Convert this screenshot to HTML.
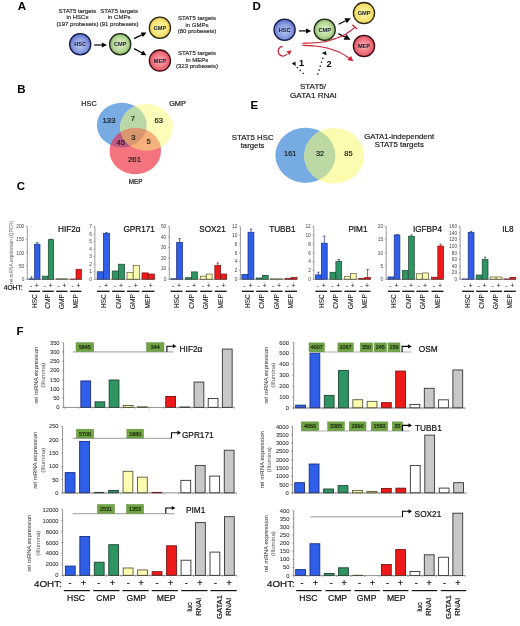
<!DOCTYPE html>
<html><head><meta charset="utf-8"><title>Figure</title>
<style>
html,body{margin:0;padding:0;background:#fff;}
body{width:520px;height:626px;overflow:hidden;}
svg{display:block;font-family:"Liberation Sans", sans-serif;filter:blur(0.3px);}
</style></head>
<body>
<svg width="520" height="626" viewBox="0 0 520 626">
<rect x="0" y="0" width="520" height="626" fill="#fff"/>
<defs><radialGradient id="gB" cx="50%" cy="55%" r="55%"><stop offset="0" stop-color="#bcc8f2"/><stop offset="0.6" stop-color="#8a9de0"/><stop offset="1" stop-color="#5468c0"/></radialGradient><radialGradient id="gG" cx="50%" cy="50%" r="55%"><stop offset="0" stop-color="#e2f0cf"/><stop offset="0.6" stop-color="#b9d99a"/><stop offset="1" stop-color="#7aa85a"/></radialGradient><radialGradient id="gY" cx="50%" cy="50%" r="55%"><stop offset="0" stop-color="#fff6b0"/><stop offset="0.6" stop-color="#f8e77a"/><stop offset="1" stop-color="#e6c84a"/></radialGradient><radialGradient id="gR" cx="50%" cy="50%" r="55%"><stop offset="0" stop-color="#f9b4bc"/><stop offset="0.6" stop-color="#f07480"/><stop offset="1" stop-color="#d84452"/></radialGradient></defs>
<text x="17.8" y="10.2" font-size="11.5" text-anchor="start" font-weight="bold" fill="#000" >A</text>
<text x="77.4" y="13.2" font-size="6" text-anchor="middle" font-weight="normal" fill="#333" stroke="#333" stroke-width="0.2" >STAT5 targets</text>
<text x="77.4" y="19.4" font-size="6" text-anchor="middle" font-weight="normal" fill="#333" stroke="#333" stroke-width="0.2" >in HSCs</text>
<text x="77.4" y="25.6" font-size="6" text-anchor="middle" font-weight="normal" fill="#333" stroke="#333" stroke-width="0.2" >(197 probesets)</text>
<text x="119.1" y="13.2" font-size="6" text-anchor="middle" font-weight="normal" fill="#333" stroke="#333" stroke-width="0.2" >STAT5 targets</text>
<text x="119.1" y="19.4" font-size="6" text-anchor="middle" font-weight="normal" fill="#333" stroke="#333" stroke-width="0.2" >in CMPs</text>
<text x="119.1" y="25.6" font-size="6" text-anchor="middle" font-weight="normal" fill="#333" stroke="#333" stroke-width="0.2" >(91 probesets)</text>
<text x="197" y="20.4" font-size="6" text-anchor="middle" font-weight="normal" fill="#333" stroke="#333" stroke-width="0.2" >STAT5 targets</text>
<text x="197" y="26.7" font-size="6" text-anchor="middle" font-weight="normal" fill="#333" stroke="#333" stroke-width="0.2" >in GMPs</text>
<text x="197" y="33" font-size="6" text-anchor="middle" font-weight="normal" fill="#333" stroke="#333" stroke-width="0.2" >(80 probesets)</text>
<text x="197" y="55.4" font-size="6" text-anchor="middle" font-weight="normal" fill="#333" stroke="#333" stroke-width="0.2" >STAT5 targets</text>
<text x="197" y="61.7" font-size="6" text-anchor="middle" font-weight="normal" fill="#333" stroke="#333" stroke-width="0.2" >in MEPs</text>
<text x="197" y="68" font-size="6" text-anchor="middle" font-weight="normal" fill="#333" stroke="#333" stroke-width="0.2" >(323 probesets)</text>
<circle cx="80.2" cy="44.2" r="10.6" fill="url(#gB)" stroke="#141a4a" stroke-width="1.3"/>
<text x="80.2" y="46.2" font-size="5.6" text-anchor="middle" font-weight="bold" fill="#12162a" >HSC</text>
<circle cx="120.2" cy="44.2" r="10.6" fill="url(#gG)" stroke="#1c2a14" stroke-width="1.3"/>
<text x="120.2" y="46.2" font-size="5.6" text-anchor="middle" font-weight="bold" fill="#12162a" >CMP</text>
<circle cx="159.9" cy="27.8" r="10.6" fill="url(#gY)" stroke="#2a2410" stroke-width="1.3"/>
<text x="159.9" y="29.8" font-size="5.6" text-anchor="middle" font-weight="bold" fill="#12162a" >GMP</text>
<circle cx="159.9" cy="60.6" r="10.6" fill="url(#gR)" stroke="#3a0c14" stroke-width="1.3"/>
<text x="159.9" y="62.6" font-size="5.6" text-anchor="middle" font-weight="bold" fill="#12162a" >MEP</text>
<line x1="94.2" y1="45" x2="101.8" y2="45" stroke="#000" stroke-width="1.2" />
<polygon points="107,45 101.8,47.5 101.8,42.5" fill="#000"/>
<line x1="134" y1="38.6" x2="141.81" y2="34.85" stroke="#000" stroke-width="1.2" />
<polygon points="146.5,32.6 142.89,37.1 140.73,32.6" fill="#000"/>
<line x1="134" y1="48.6" x2="141.9" y2="52.77" stroke="#000" stroke-width="1.2" />
<polygon points="146.5,55.2 140.73,54.98 143.07,50.56" fill="#000"/>
<text x="252.6" y="9.8" font-size="11.5" text-anchor="start" font-weight="bold" fill="#000" >D</text>
<circle cx="284.6" cy="29.7" r="10.6" fill="url(#gB)" stroke="#141a4a" stroke-width="1.3"/>
<text x="284.6" y="31.7" font-size="5.6" text-anchor="middle" font-weight="bold" fill="#12162a" >HSC</text>
<circle cx="324.7" cy="29.7" r="10.6" fill="url(#gG)" stroke="#1c2a14" stroke-width="1.3"/>
<text x="324.7" y="31.7" font-size="5.6" text-anchor="middle" font-weight="bold" fill="#12162a" >CMP</text>
<circle cx="364" cy="13.1" r="10.6" fill="url(#gY)" stroke="#2a2410" stroke-width="1.3"/>
<text x="364" y="15.1" font-size="5.6" text-anchor="middle" font-weight="bold" fill="#12162a" >GMP</text>
<circle cx="364" cy="46" r="10.6" fill="url(#gR)" stroke="#3a0c14" stroke-width="1.3"/>
<text x="364" y="48" font-size="5.6" text-anchor="middle" font-weight="bold" fill="#12162a" >MEP</text>
<line x1="299" y1="30.9" x2="306" y2="30.9" stroke="#000" stroke-width="1.2" />
<polygon points="311.2,30.9 306,33.4 306,28.4" fill="#000"/>
<line x1="338.7" y1="24.2" x2="345.6" y2="20.78" stroke="#000" stroke-width="1.2" />
<polygon points="350.8,18.2 346.85,23.29 344.36,18.27" fill="#000"/>
<line x1="338.4" y1="33.6" x2="345.07" y2="36.99" stroke="#000" stroke-width="1.2" />
<polygon points="350.6,39.8 343.71,39.67 346.43,34.32" fill="#000"/>
<path d="M302.3,43.2 C304.42,43.13 311.22,43.03 315,42.8 C318.78,42.57 322.22,42.3 325,41.8 C327.78,41.3 329.45,40.52 331.7,39.8 C333.95,39.08 336.25,38.4 338.5,37.5 C340.75,36.6 343.18,35.53 345.2,34.4 C347.22,33.27 349,31.9 350.6,30.7 C352.2,29.5 354.1,27.78 354.8,27.2" fill="none" stroke="#cf1f33" stroke-width="1.15"/>
<line x1="352.4" y1="24.8" x2="357" y2="29" stroke="#cf1f33" stroke-width="1.2" />
<path d="M302.3,45.3 C304.42,45.42 310.72,45.52 315,46 C319.28,46.48 323.93,47.15 328,48.2 C332.07,49.25 336.32,50.93 339.4,52.3 C342.48,53.67 344.73,55.3 346.5,56.4 C348.27,57.5 349.42,58.48 350,58.9" fill="none" stroke="#cf1f33" stroke-width="1.15"/>
<polygon points="353.4,61.2 347.4,59.9 350.9,55.9" fill="#cf1f33"/>
<path d="M282.6,46.3 A4.9,4.9 0 1 0 287.0,54.0" fill="none" stroke="#cf1f33" stroke-width="1.2"/>
<polygon points="291.4,50.3 286.4,51.4 289.7,55.2" fill="#cf1f33"/>
<path d="M303.6,73.8 L296.2,66.6" fill="none" stroke="#111" stroke-width="1.4" stroke-dasharray="1.3,2.8"/>
<polygon points="291.7,63.4 295.4,61.6 295.8,66.1" fill="#111"/>
<path d="M317.6,74.6 L323.0,57.6" fill="none" stroke="#111" stroke-width="1.4" stroke-dasharray="1.3,2.8"/>
<polygon points="321.8,53.0 326.0,51.3 326.6,55.6" fill="#111"/>
<text x="299" y="66.2" font-size="9.2" text-anchor="start" font-weight="bold" fill="#000" >1</text>
<text x="326.4" y="67.2" font-size="9.2" text-anchor="start" font-weight="bold" fill="#000" >2</text>
<text x="313" y="89.3" font-size="8.1" text-anchor="middle" font-weight="normal" fill="#222" stroke="#222" stroke-width="0.2" >STAT5/</text>
<text x="313.3" y="98.4" font-size="8.1" text-anchor="middle" font-weight="normal" fill="#222" stroke="#222" stroke-width="0.2" >GATA1 RNAi</text>
<text x="17.3" y="92.6" font-size="11.5" text-anchor="start" font-weight="bold" fill="#000" >B</text>
<defs><clipPath id="cpB"><ellipse cx="121.8" cy="125.1" rx="24.9" ry="22.3" /></clipPath><clipPath id="cpY"><ellipse cx="146.6" cy="127.4" rx="26.4" ry="23.5" /></clipPath><clipPath id="cpBY" clip-path="url(#cpB)"><ellipse cx="146.6" cy="127.4" rx="26.4" ry="23.5" /></clipPath></defs>
<ellipse cx="121.8" cy="125.1" rx="24.9" ry="22.3" fill="#78abe2"/>
<ellipse cx="146.6" cy="127.4" rx="26.4" ry="23.5" fill="#fdfcb8"/>
<ellipse cx="135.3" cy="151.1" rx="25.7" ry="23.1" fill="#f3737f"/>
<ellipse cx="146.6" cy="127.4" rx="26.4" ry="23.5" fill="#b9d8a6" clip-path="url(#cpB)"/>
<ellipse cx="135.3" cy="151.1" rx="25.7" ry="23.1" fill="#bd5a84" clip-path="url(#cpB)"/>
<ellipse cx="135.3" cy="151.1" rx="25.7" ry="23.1" fill="#f6b27a" clip-path="url(#cpY)"/>
<ellipse cx="135.3" cy="151.1" rx="25.7" ry="23.1" fill="#d99770" clip-path="url(#cpBY)"/>
<text x="89" y="105.6" font-size="7.3" text-anchor="middle" font-weight="normal" fill="#1a1a1a" stroke="#1a1a1a" stroke-width="0.2" >HSC</text>
<text x="177.5" y="105.6" font-size="7.3" text-anchor="middle" font-weight="normal" fill="#1a1a1a" stroke="#1a1a1a" stroke-width="0.2" >GMP</text>
<text x="135.6" y="183.9" font-size="6.3" text-anchor="middle" font-weight="normal" fill="#1a1a1a" stroke="#1a1a1a" stroke-width="0.2" >MEP</text>
<text x="109" y="122.6" font-size="7.7" text-anchor="middle" font-weight="normal" fill="#1a1a1a" stroke="#1a1a1a" stroke-width="0.2" >133</text>
<text x="133" y="120.6" font-size="7.7" text-anchor="middle" font-weight="normal" fill="#1a1a1a" stroke="#1a1a1a" stroke-width="0.2" >7</text>
<text x="158.8" y="122.6" font-size="7.7" text-anchor="middle" font-weight="normal" fill="#1a1a1a" stroke="#1a1a1a" stroke-width="0.2" >63</text>
<text x="133.5" y="139.8" font-size="7.7" text-anchor="middle" font-weight="normal" fill="#1a1a1a" stroke="#1a1a1a" stroke-width="0.2" >3</text>
<text x="120.8" y="144.8" font-size="7.7" text-anchor="middle" font-weight="normal" fill="#1a1a1a" stroke="#1a1a1a" stroke-width="0.2" >45</text>
<text x="148.7" y="143.8" font-size="7.7" text-anchor="middle" font-weight="normal" fill="#1a1a1a" stroke="#1a1a1a" stroke-width="0.2" >5</text>
<text x="134.5" y="161.8" font-size="7.7" text-anchor="middle" font-weight="normal" fill="#1a1a1a" stroke="#1a1a1a" stroke-width="0.2" >261</text>
<text x="250.6" y="108.8" font-size="11.5" text-anchor="start" font-weight="bold" fill="#000" >E</text>
<defs><clipPath id="cpE"><ellipse cx="305.4" cy="155.3" rx="30" ry="27.6"/></clipPath></defs>
<ellipse cx="305.4" cy="155.3" rx="30" ry="27.6" fill="#77abe3"/>
<ellipse cx="334.2" cy="155.8" rx="30" ry="27.8" fill="#fdfbb0"/>
<ellipse cx="334.2" cy="155.8" rx="30" ry="27.8" fill="#bcd9a4" clip-path="url(#cpE)"/>
<text x="252.7" y="140" font-size="7.8" text-anchor="middle" font-weight="normal" fill="#222" stroke="#222" stroke-width="0.2" >STAT5 HSC</text>
<text x="252.6" y="147.9" font-size="7.8" text-anchor="middle" font-weight="normal" fill="#222" stroke="#222" stroke-width="0.2" >targets</text>
<text x="399.2" y="138.7" font-size="7.8" text-anchor="middle" font-weight="normal" fill="#222" stroke="#222" stroke-width="0.2" >GATA1-independent</text>
<text x="399.3" y="146.9" font-size="7.8" text-anchor="middle" font-weight="normal" fill="#222" stroke="#222" stroke-width="0.2" >STAT5 targets</text>
<text x="290.2" y="156.4" font-size="7.4" text-anchor="middle" font-weight="normal" fill="#222" stroke="#222" stroke-width="0.2" >161</text>
<text x="320.1" y="156.4" font-size="7.4" text-anchor="middle" font-weight="normal" fill="#222" stroke="#222" stroke-width="0.2" >32</text>
<text x="348.4" y="156.4" font-size="7.4" text-anchor="middle" font-weight="normal" fill="#222" stroke="#222" stroke-width="0.2" >85</text>
<text x="16.8" y="190.2" font-size="11.5" text-anchor="start" font-weight="bold" fill="#000" >C</text>
<rect x="28.8" y="278.9" width="5.4" height="0.4" fill="#2f5fe8" stroke="#1b2d80" stroke-width="0.7"/>
<line x1="31.5" y1="278.9" x2="31.5" y2="276.92" stroke="#1b2d80" stroke-width="0.7" />
<line x1="30.3" y1="276.92" x2="32.7" y2="276.92" stroke="#1b2d80" stroke-width="0.7" />
<rect x="34.6" y="244.19" width="5.4" height="35.11" fill="#2f5fe8" stroke="#1b2d80" stroke-width="0.7"/>
<line x1="37.3" y1="244.19" x2="37.3" y2="242.6" stroke="#1b2d80" stroke-width="0.7" />
<line x1="36.1" y1="242.6" x2="38.5" y2="242.6" stroke="#1b2d80" stroke-width="0.7" />
<rect x="42.5" y="276.13" width="5.4" height="3.17" fill="#2e9462" stroke="#1d4430" stroke-width="0.7"/>
<rect x="48.3" y="239.7" width="5.4" height="39.6" fill="#2e9462" stroke="#1d4430" stroke-width="0.7"/>
<line x1="51" y1="239.7" x2="51" y2="239.17" stroke="#1d4430" stroke-width="0.7" />
<line x1="49.8" y1="239.17" x2="52.2" y2="239.17" stroke="#1d4430" stroke-width="0.7" />
<rect x="56.3" y="278.77" width="5.4" height="0.53" fill="#fdfcb0" stroke="#5a5a3a" stroke-width="0.7"/>
<rect x="62.1" y="278.77" width="5.4" height="0.53" fill="#fdfcb0" stroke="#5a5a3a" stroke-width="0.7"/>
<rect x="70.2" y="279.04" width="5.4" height="0.26" fill="#ee1a1a" stroke="#7a1010" stroke-width="0.7"/>
<rect x="76" y="269.27" width="5.4" height="10.03" fill="#ee1a1a" stroke="#7a1010" stroke-width="0.7"/>
<line x1="27.3" y1="226.5" x2="27.3" y2="279.3" stroke="#555" stroke-width="0.6" />
<line x1="27.3" y1="279.3" x2="82.3" y2="279.3" stroke="#555" stroke-width="0.6" />
<line x1="26" y1="279.3" x2="27.3" y2="279.3" stroke="#555" stroke-width="0.5" />
<text x="24.3" y="280.9" font-size="4.8" text-anchor="end" font-weight="normal" fill="#444" >0</text>
<line x1="26" y1="266.1" x2="27.3" y2="266.1" stroke="#555" stroke-width="0.5" />
<text x="24.3" y="267.7" font-size="4.8" text-anchor="end" font-weight="normal" fill="#444" >50</text>
<line x1="26" y1="252.9" x2="27.3" y2="252.9" stroke="#555" stroke-width="0.5" />
<text x="24.3" y="254.5" font-size="4.8" text-anchor="end" font-weight="normal" fill="#444" >100</text>
<line x1="26" y1="239.7" x2="27.3" y2="239.7" stroke="#555" stroke-width="0.5" />
<text x="24.3" y="241.3" font-size="4.8" text-anchor="end" font-weight="normal" fill="#444" >150</text>
<line x1="26" y1="226.5" x2="27.3" y2="226.5" stroke="#555" stroke-width="0.5" />
<text x="24.3" y="228.1" font-size="4.8" text-anchor="end" font-weight="normal" fill="#444" >200</text>
<text x="80.5" y="232.3" font-size="8.2" text-anchor="end" font-weight="normal" fill="#111" stroke="#111" stroke-width="0.2" >HIF2&#945;</text>
<text x="31.1" y="287.8" font-size="7" text-anchor="middle" font-weight="normal" fill="#222" >-</text>
<text x="36.8" y="287.8" font-size="7" text-anchor="middle" font-weight="normal" fill="#222" >+</text>
<line x1="28.7" y1="291.3" x2="40" y2="291.3" stroke="#111" stroke-width="1.3" />
<text transform="translate(36.6,294.2) rotate(-90)" font-size="6.6" text-anchor="end" font-weight="normal" fill="#111" stroke="#111" stroke-width="0.05">HSC</text>
<text x="44.8" y="287.8" font-size="7" text-anchor="middle" font-weight="normal" fill="#222" >-</text>
<text x="50.5" y="287.8" font-size="7" text-anchor="middle" font-weight="normal" fill="#222" >+</text>
<line x1="42.4" y1="291.3" x2="53.7" y2="291.3" stroke="#111" stroke-width="1.3" />
<text transform="translate(50.3,294.2) rotate(-90)" font-size="6.6" text-anchor="end" font-weight="normal" fill="#111" stroke="#111" stroke-width="0.05">CMP</text>
<text x="58.6" y="287.8" font-size="7" text-anchor="middle" font-weight="normal" fill="#222" >-</text>
<text x="64.3" y="287.8" font-size="7" text-anchor="middle" font-weight="normal" fill="#222" >+</text>
<line x1="56.2" y1="291.3" x2="67.5" y2="291.3" stroke="#111" stroke-width="1.3" />
<text transform="translate(64.1,294.2) rotate(-90)" font-size="6.6" text-anchor="end" font-weight="normal" fill="#111" stroke="#111" stroke-width="0.05">GMP</text>
<text x="72.5" y="287.8" font-size="7" text-anchor="middle" font-weight="normal" fill="#222" >-</text>
<text x="78.2" y="287.8" font-size="7" text-anchor="middle" font-weight="normal" fill="#222" >+</text>
<line x1="70.1" y1="291.3" x2="81.4" y2="291.3" stroke="#111" stroke-width="1.3" />
<text transform="translate(78,294.2) rotate(-90)" font-size="6.6" text-anchor="end" font-weight="normal" fill="#111" stroke="#111" stroke-width="0.05">MEP</text>
<rect x="97.2" y="271.76" width="6.2" height="7.54" fill="#2f5fe8" stroke="#1b2d80" stroke-width="0.7"/>
<rect x="103.4" y="233.29" width="6.2" height="46.01" fill="#2f5fe8" stroke="#1b2d80" stroke-width="0.7"/>
<line x1="106.5" y1="233.29" x2="106.5" y2="232.53" stroke="#1b2d80" stroke-width="0.7" />
<line x1="105.3" y1="232.53" x2="107.7" y2="232.53" stroke="#1b2d80" stroke-width="0.7" />
<rect x="112.2" y="271" width="6.2" height="8.3" fill="#2e9462" stroke="#1d4430" stroke-width="0.7"/>
<rect x="118.4" y="264.21" width="6.2" height="15.09" fill="#2e9462" stroke="#1d4430" stroke-width="0.7"/>
<rect x="127" y="272.51" width="6.2" height="6.79" fill="#fdfcb0" stroke="#5a5a3a" stroke-width="0.7"/>
<rect x="133.2" y="265.35" width="6.2" height="13.95" fill="#fdfcb0" stroke="#5a5a3a" stroke-width="0.7"/>
<rect x="142" y="272.89" width="6.2" height="6.41" fill="#ee1a1a" stroke="#7a1010" stroke-width="0.7"/>
<rect x="148.2" y="274.02" width="6.2" height="5.28" fill="#ee1a1a" stroke="#7a1010" stroke-width="0.7"/>
<line x1="94.9" y1="226.5" x2="94.9" y2="279.3" stroke="#555" stroke-width="0.6" />
<line x1="94.9" y1="279.3" x2="155.4" y2="279.3" stroke="#555" stroke-width="0.6" />
<line x1="93.6" y1="279.3" x2="94.9" y2="279.3" stroke="#555" stroke-width="0.5" />
<text x="91.9" y="280.9" font-size="4.8" text-anchor="end" font-weight="normal" fill="#444" >0</text>
<line x1="93.6" y1="271.76" x2="94.9" y2="271.76" stroke="#555" stroke-width="0.5" />
<text x="91.9" y="273.36" font-size="4.8" text-anchor="end" font-weight="normal" fill="#444" >1</text>
<line x1="93.6" y1="264.21" x2="94.9" y2="264.21" stroke="#555" stroke-width="0.5" />
<text x="91.9" y="265.81" font-size="4.8" text-anchor="end" font-weight="normal" fill="#444" >2</text>
<line x1="93.6" y1="256.67" x2="94.9" y2="256.67" stroke="#555" stroke-width="0.5" />
<text x="91.9" y="258.27" font-size="4.8" text-anchor="end" font-weight="normal" fill="#444" >3</text>
<line x1="93.6" y1="249.13" x2="94.9" y2="249.13" stroke="#555" stroke-width="0.5" />
<text x="91.9" y="250.73" font-size="4.8" text-anchor="end" font-weight="normal" fill="#444" >4</text>
<line x1="93.6" y1="241.59" x2="94.9" y2="241.59" stroke="#555" stroke-width="0.5" />
<text x="91.9" y="243.19" font-size="4.8" text-anchor="end" font-weight="normal" fill="#444" >5</text>
<line x1="93.6" y1="234.04" x2="94.9" y2="234.04" stroke="#555" stroke-width="0.5" />
<text x="91.9" y="235.64" font-size="4.8" text-anchor="end" font-weight="normal" fill="#444" >6</text>
<line x1="93.6" y1="226.5" x2="94.9" y2="226.5" stroke="#555" stroke-width="0.5" />
<text x="91.9" y="228.1" font-size="4.8" text-anchor="end" font-weight="normal" fill="#444" >7</text>
<text x="154.8" y="232.3" font-size="8.2" text-anchor="end" font-weight="normal" fill="#111" stroke="#111" stroke-width="0.2" >GPR171</text>
<text x="99.9" y="287.8" font-size="7" text-anchor="middle" font-weight="normal" fill="#222" >-</text>
<text x="106" y="287.8" font-size="7" text-anchor="middle" font-weight="normal" fill="#222" >+</text>
<line x1="97.1" y1="291.3" x2="109.6" y2="291.3" stroke="#111" stroke-width="1.3" />
<text transform="translate(105.6,294.2) rotate(-90)" font-size="6.6" text-anchor="end" font-weight="normal" fill="#111" stroke="#111" stroke-width="0.05">HSC</text>
<text x="114.9" y="287.8" font-size="7" text-anchor="middle" font-weight="normal" fill="#222" >-</text>
<text x="121" y="287.8" font-size="7" text-anchor="middle" font-weight="normal" fill="#222" >+</text>
<line x1="112.1" y1="291.3" x2="124.6" y2="291.3" stroke="#111" stroke-width="1.3" />
<text transform="translate(120.6,294.2) rotate(-90)" font-size="6.6" text-anchor="end" font-weight="normal" fill="#111" stroke="#111" stroke-width="0.05">CMP</text>
<text x="129.7" y="287.8" font-size="7" text-anchor="middle" font-weight="normal" fill="#222" >-</text>
<text x="135.8" y="287.8" font-size="7" text-anchor="middle" font-weight="normal" fill="#222" >+</text>
<line x1="126.9" y1="291.3" x2="139.4" y2="291.3" stroke="#111" stroke-width="1.3" />
<text transform="translate(135.4,294.2) rotate(-90)" font-size="6.6" text-anchor="end" font-weight="normal" fill="#111" stroke="#111" stroke-width="0.05">GMP</text>
<text x="144.7" y="287.8" font-size="7" text-anchor="middle" font-weight="normal" fill="#222" >-</text>
<text x="150.8" y="287.8" font-size="7" text-anchor="middle" font-weight="normal" fill="#222" >+</text>
<line x1="141.9" y1="291.3" x2="154.4" y2="291.3" stroke="#111" stroke-width="1.3" />
<text transform="translate(150.4,294.2) rotate(-90)" font-size="6.6" text-anchor="end" font-weight="normal" fill="#111" stroke="#111" stroke-width="0.05">MEP</text>
<rect x="170.7" y="278.77" width="5.9" height="0.53" fill="#2f5fe8" stroke="#1b2d80" stroke-width="0.7"/>
<rect x="176.65" y="242.34" width="5.9" height="36.96" fill="#2f5fe8" stroke="#1b2d80" stroke-width="0.7"/>
<line x1="179.6" y1="242.34" x2="179.6" y2="238.64" stroke="#1b2d80" stroke-width="0.7" />
<line x1="178.4" y1="238.64" x2="180.8" y2="238.64" stroke="#1b2d80" stroke-width="0.7" />
<rect x="185.6" y="277.72" width="5.9" height="1.58" fill="#2e9462" stroke="#1d4430" stroke-width="0.7"/>
<rect x="191.55" y="271.91" width="5.9" height="7.39" fill="#2e9462" stroke="#1d4430" stroke-width="0.7"/>
<rect x="200.3" y="276.13" width="5.9" height="3.17" fill="#fdfcb0" stroke="#5a5a3a" stroke-width="0.7"/>
<rect x="206.25" y="274.02" width="5.9" height="5.28" fill="#fdfcb0" stroke="#5a5a3a" stroke-width="0.7"/>
<rect x="214.8" y="265.57" width="5.9" height="13.73" fill="#ee1a1a" stroke="#7a1010" stroke-width="0.7"/>
<line x1="217.75" y1="265.57" x2="217.75" y2="262.93" stroke="#7a1010" stroke-width="0.7" />
<line x1="216.55" y1="262.93" x2="218.95" y2="262.93" stroke="#7a1010" stroke-width="0.7" />
<rect x="220.75" y="274.02" width="5.9" height="5.28" fill="#ee1a1a" stroke="#7a1010" stroke-width="0.7"/>
<line x1="169.3" y1="226.5" x2="169.3" y2="279.3" stroke="#555" stroke-width="0.6" />
<line x1="169.3" y1="279.3" x2="226.8" y2="279.3" stroke="#555" stroke-width="0.6" />
<line x1="168" y1="279.3" x2="169.3" y2="279.3" stroke="#555" stroke-width="0.5" />
<text x="166.3" y="280.9" font-size="4.8" text-anchor="end" font-weight="normal" fill="#444" >0</text>
<line x1="168" y1="268.74" x2="169.3" y2="268.74" stroke="#555" stroke-width="0.5" />
<text x="166.3" y="270.34" font-size="4.8" text-anchor="end" font-weight="normal" fill="#444" >10</text>
<line x1="168" y1="258.18" x2="169.3" y2="258.18" stroke="#555" stroke-width="0.5" />
<text x="166.3" y="259.78" font-size="4.8" text-anchor="end" font-weight="normal" fill="#444" >20</text>
<line x1="168" y1="247.62" x2="169.3" y2="247.62" stroke="#555" stroke-width="0.5" />
<text x="166.3" y="249.22" font-size="4.8" text-anchor="end" font-weight="normal" fill="#444" >30</text>
<line x1="168" y1="237.06" x2="169.3" y2="237.06" stroke="#555" stroke-width="0.5" />
<text x="166.3" y="238.66" font-size="4.8" text-anchor="end" font-weight="normal" fill="#444" >40</text>
<line x1="168" y1="226.5" x2="169.3" y2="226.5" stroke="#555" stroke-width="0.5" />
<text x="166.3" y="228.1" font-size="4.8" text-anchor="end" font-weight="normal" fill="#444" >50</text>
<text x="225.7" y="232.3" font-size="8.2" text-anchor="end" font-weight="normal" fill="#111" stroke="#111" stroke-width="0.2" >SOX21</text>
<text x="173.25" y="287.8" font-size="7" text-anchor="middle" font-weight="normal" fill="#222" >-</text>
<text x="179.1" y="287.8" font-size="7" text-anchor="middle" font-weight="normal" fill="#222" >+</text>
<line x1="170.6" y1="291.3" x2="182.55" y2="291.3" stroke="#111" stroke-width="1.3" />
<text transform="translate(178.82,294.2) rotate(-90)" font-size="6.6" text-anchor="end" font-weight="normal" fill="#111" stroke="#111" stroke-width="0.05">HSC</text>
<text x="188.15" y="287.8" font-size="7" text-anchor="middle" font-weight="normal" fill="#222" >-</text>
<text x="194" y="287.8" font-size="7" text-anchor="middle" font-weight="normal" fill="#222" >+</text>
<line x1="185.5" y1="291.3" x2="197.45" y2="291.3" stroke="#111" stroke-width="1.3" />
<text transform="translate(193.72,294.2) rotate(-90)" font-size="6.6" text-anchor="end" font-weight="normal" fill="#111" stroke="#111" stroke-width="0.05">CMP</text>
<text x="202.85" y="287.8" font-size="7" text-anchor="middle" font-weight="normal" fill="#222" >-</text>
<text x="208.7" y="287.8" font-size="7" text-anchor="middle" font-weight="normal" fill="#222" >+</text>
<line x1="200.2" y1="291.3" x2="212.15" y2="291.3" stroke="#111" stroke-width="1.3" />
<text transform="translate(208.43,294.2) rotate(-90)" font-size="6.6" text-anchor="end" font-weight="normal" fill="#111" stroke="#111" stroke-width="0.05">GMP</text>
<text x="217.35" y="287.8" font-size="7" text-anchor="middle" font-weight="normal" fill="#222" >-</text>
<text x="223.2" y="287.8" font-size="7" text-anchor="middle" font-weight="normal" fill="#222" >+</text>
<line x1="214.7" y1="291.3" x2="226.65" y2="291.3" stroke="#111" stroke-width="1.3" />
<text transform="translate(222.93,294.2) rotate(-90)" font-size="6.6" text-anchor="end" font-weight="normal" fill="#111" stroke="#111" stroke-width="0.05">MEP</text>
<rect x="241.9" y="274.46" width="5.9" height="4.84" fill="#2f5fe8" stroke="#1b2d80" stroke-width="0.7"/>
<rect x="248" y="232.22" width="5.9" height="47.08" fill="#2f5fe8" stroke="#1b2d80" stroke-width="0.7"/>
<line x1="250.95" y1="232.22" x2="250.95" y2="229.14" stroke="#1b2d80" stroke-width="0.7" />
<line x1="249.75" y1="229.14" x2="252.15" y2="229.14" stroke="#1b2d80" stroke-width="0.7" />
<rect x="256.2" y="277.98" width="5.9" height="1.32" fill="#2e9462" stroke="#1d4430" stroke-width="0.7"/>
<rect x="262.3" y="275.34" width="5.9" height="3.96" fill="#2e9462" stroke="#1d4430" stroke-width="0.7"/>
<rect x="270.6" y="278.86" width="5.9" height="0.44" fill="#fdfcb0" stroke="#5a5a3a" stroke-width="0.7"/>
<rect x="276.7" y="278.86" width="5.9" height="0.44" fill="#fdfcb0" stroke="#5a5a3a" stroke-width="0.7"/>
<rect x="285" y="278.42" width="5.9" height="0.88" fill="#ee1a1a" stroke="#7a1010" stroke-width="0.7"/>
<rect x="291.1" y="277.54" width="5.9" height="1.76" fill="#ee1a1a" stroke="#7a1010" stroke-width="0.7"/>
<line x1="240.4" y1="226.5" x2="240.4" y2="279.3" stroke="#555" stroke-width="0.6" />
<line x1="240.4" y1="279.3" x2="297.5" y2="279.3" stroke="#555" stroke-width="0.6" />
<line x1="239.1" y1="279.3" x2="240.4" y2="279.3" stroke="#555" stroke-width="0.5" />
<text x="237.4" y="280.9" font-size="4.8" text-anchor="end" font-weight="normal" fill="#444" >0</text>
<line x1="239.1" y1="270.5" x2="240.4" y2="270.5" stroke="#555" stroke-width="0.5" />
<text x="237.4" y="272.1" font-size="4.8" text-anchor="end" font-weight="normal" fill="#444" >2</text>
<line x1="239.1" y1="261.7" x2="240.4" y2="261.7" stroke="#555" stroke-width="0.5" />
<text x="237.4" y="263.3" font-size="4.8" text-anchor="end" font-weight="normal" fill="#444" >4</text>
<line x1="239.1" y1="252.9" x2="240.4" y2="252.9" stroke="#555" stroke-width="0.5" />
<text x="237.4" y="254.5" font-size="4.8" text-anchor="end" font-weight="normal" fill="#444" >6</text>
<line x1="239.1" y1="244.1" x2="240.4" y2="244.1" stroke="#555" stroke-width="0.5" />
<text x="237.4" y="245.7" font-size="4.8" text-anchor="end" font-weight="normal" fill="#444" >8</text>
<line x1="239.1" y1="235.3" x2="240.4" y2="235.3" stroke="#555" stroke-width="0.5" />
<text x="237.4" y="236.9" font-size="4.8" text-anchor="end" font-weight="normal" fill="#444" >10</text>
<line x1="239.1" y1="226.5" x2="240.4" y2="226.5" stroke="#555" stroke-width="0.5" />
<text x="237.4" y="228.1" font-size="4.8" text-anchor="end" font-weight="normal" fill="#444" >12</text>
<text x="295.6" y="232.3" font-size="8.2" text-anchor="end" font-weight="normal" fill="#111" stroke="#111" stroke-width="0.2" >TUBB1</text>
<text x="244.45" y="287.8" font-size="7" text-anchor="middle" font-weight="normal" fill="#222" >-</text>
<text x="250.45" y="287.8" font-size="7" text-anchor="middle" font-weight="normal" fill="#222" >+</text>
<line x1="241.8" y1="291.3" x2="253.9" y2="291.3" stroke="#111" stroke-width="1.3" />
<text transform="translate(250.1,294.2) rotate(-90)" font-size="6.6" text-anchor="end" font-weight="normal" fill="#111" stroke="#111" stroke-width="0.05">HSC</text>
<text x="258.75" y="287.8" font-size="7" text-anchor="middle" font-weight="normal" fill="#222" >-</text>
<text x="264.75" y="287.8" font-size="7" text-anchor="middle" font-weight="normal" fill="#222" >+</text>
<line x1="256.1" y1="291.3" x2="268.2" y2="291.3" stroke="#111" stroke-width="1.3" />
<text transform="translate(264.4,294.2) rotate(-90)" font-size="6.6" text-anchor="end" font-weight="normal" fill="#111" stroke="#111" stroke-width="0.05">CMP</text>
<text x="273.15" y="287.8" font-size="7" text-anchor="middle" font-weight="normal" fill="#222" >-</text>
<text x="279.15" y="287.8" font-size="7" text-anchor="middle" font-weight="normal" fill="#222" >+</text>
<line x1="270.5" y1="291.3" x2="282.6" y2="291.3" stroke="#111" stroke-width="1.3" />
<text transform="translate(278.8,294.2) rotate(-90)" font-size="6.6" text-anchor="end" font-weight="normal" fill="#111" stroke="#111" stroke-width="0.05">GMP</text>
<text x="287.55" y="287.8" font-size="7" text-anchor="middle" font-weight="normal" fill="#222" >-</text>
<text x="293.55" y="287.8" font-size="7" text-anchor="middle" font-weight="normal" fill="#222" >+</text>
<line x1="284.9" y1="291.3" x2="297" y2="291.3" stroke="#111" stroke-width="1.3" />
<text transform="translate(293.2,294.2) rotate(-90)" font-size="6.6" text-anchor="end" font-weight="normal" fill="#111" stroke="#111" stroke-width="0.05">MEP</text>
<rect x="315.5" y="274.9" width="5.8" height="4.4" fill="#2f5fe8" stroke="#1b2d80" stroke-width="0.7"/>
<line x1="318.4" y1="274.9" x2="318.4" y2="272.26" stroke="#1b2d80" stroke-width="0.7" />
<line x1="317.2" y1="272.26" x2="319.6" y2="272.26" stroke="#1b2d80" stroke-width="0.7" />
<rect x="321.4" y="243.22" width="5.8" height="36.08" fill="#2f5fe8" stroke="#1b2d80" stroke-width="0.7"/>
<line x1="324.3" y1="243.22" x2="324.3" y2="236.18" stroke="#1b2d80" stroke-width="0.7" />
<line x1="323.1" y1="236.18" x2="325.5" y2="236.18" stroke="#1b2d80" stroke-width="0.7" />
<rect x="330" y="272.26" width="5.8" height="7.04" fill="#2e9462" stroke="#1d4430" stroke-width="0.7"/>
<rect x="335.9" y="261.26" width="5.8" height="18.04" fill="#2e9462" stroke="#1d4430" stroke-width="0.7"/>
<line x1="338.8" y1="261.26" x2="338.8" y2="259.5" stroke="#1d4430" stroke-width="0.7" />
<line x1="337.6" y1="259.5" x2="340" y2="259.5" stroke="#1d4430" stroke-width="0.7" />
<rect x="344.5" y="276.66" width="5.8" height="2.64" fill="#fdfcb0" stroke="#5a5a3a" stroke-width="0.7"/>
<rect x="350.4" y="273.58" width="5.8" height="5.72" fill="#fdfcb0" stroke="#5a5a3a" stroke-width="0.7"/>
<rect x="358.8" y="278.42" width="5.8" height="0.88" fill="#ee1a1a" stroke="#7a1010" stroke-width="0.7"/>
<rect x="364.7" y="277.54" width="5.8" height="1.76" fill="#ee1a1a" stroke="#7a1010" stroke-width="0.7"/>
<line x1="367.6" y1="277.54" x2="367.6" y2="269.62" stroke="#7a1010" stroke-width="0.7" />
<line x1="366.4" y1="269.62" x2="368.8" y2="269.62" stroke="#7a1010" stroke-width="0.7" />
<line x1="313.8" y1="226.5" x2="313.8" y2="279.3" stroke="#555" stroke-width="0.6" />
<line x1="313.8" y1="279.3" x2="371" y2="279.3" stroke="#555" stroke-width="0.6" />
<line x1="312.5" y1="279.3" x2="313.8" y2="279.3" stroke="#555" stroke-width="0.5" />
<text x="310.8" y="280.9" font-size="4.8" text-anchor="end" font-weight="normal" fill="#444" >0</text>
<line x1="312.5" y1="270.5" x2="313.8" y2="270.5" stroke="#555" stroke-width="0.5" />
<text x="310.8" y="272.1" font-size="4.8" text-anchor="end" font-weight="normal" fill="#444" >2</text>
<line x1="312.5" y1="261.7" x2="313.8" y2="261.7" stroke="#555" stroke-width="0.5" />
<text x="310.8" y="263.3" font-size="4.8" text-anchor="end" font-weight="normal" fill="#444" >4</text>
<line x1="312.5" y1="252.9" x2="313.8" y2="252.9" stroke="#555" stroke-width="0.5" />
<text x="310.8" y="254.5" font-size="4.8" text-anchor="end" font-weight="normal" fill="#444" >6</text>
<line x1="312.5" y1="244.1" x2="313.8" y2="244.1" stroke="#555" stroke-width="0.5" />
<text x="310.8" y="245.7" font-size="4.8" text-anchor="end" font-weight="normal" fill="#444" >8</text>
<line x1="312.5" y1="235.3" x2="313.8" y2="235.3" stroke="#555" stroke-width="0.5" />
<text x="310.8" y="236.9" font-size="4.8" text-anchor="end" font-weight="normal" fill="#444" >10</text>
<line x1="312.5" y1="226.5" x2="313.8" y2="226.5" stroke="#555" stroke-width="0.5" />
<text x="310.8" y="228.1" font-size="4.8" text-anchor="end" font-weight="normal" fill="#444" >12</text>
<text x="367.5" y="232.3" font-size="8.2" text-anchor="end" font-weight="normal" fill="#111" stroke="#111" stroke-width="0.2" >PIM1</text>
<text x="318" y="287.8" font-size="7" text-anchor="middle" font-weight="normal" fill="#222" >-</text>
<text x="323.8" y="287.8" font-size="7" text-anchor="middle" font-weight="normal" fill="#222" >+</text>
<line x1="315.4" y1="291.3" x2="327.2" y2="291.3" stroke="#111" stroke-width="1.3" />
<text transform="translate(323.55,294.2) rotate(-90)" font-size="6.6" text-anchor="end" font-weight="normal" fill="#111" stroke="#111" stroke-width="0.05">HSC</text>
<text x="332.5" y="287.8" font-size="7" text-anchor="middle" font-weight="normal" fill="#222" >-</text>
<text x="338.3" y="287.8" font-size="7" text-anchor="middle" font-weight="normal" fill="#222" >+</text>
<line x1="329.9" y1="291.3" x2="341.7" y2="291.3" stroke="#111" stroke-width="1.3" />
<text transform="translate(338.05,294.2) rotate(-90)" font-size="6.6" text-anchor="end" font-weight="normal" fill="#111" stroke="#111" stroke-width="0.05">CMP</text>
<text x="347" y="287.8" font-size="7" text-anchor="middle" font-weight="normal" fill="#222" >-</text>
<text x="352.8" y="287.8" font-size="7" text-anchor="middle" font-weight="normal" fill="#222" >+</text>
<line x1="344.4" y1="291.3" x2="356.2" y2="291.3" stroke="#111" stroke-width="1.3" />
<text transform="translate(352.55,294.2) rotate(-90)" font-size="6.6" text-anchor="end" font-weight="normal" fill="#111" stroke="#111" stroke-width="0.05">GMP</text>
<text x="361.3" y="287.8" font-size="7" text-anchor="middle" font-weight="normal" fill="#222" >-</text>
<text x="367.1" y="287.8" font-size="7" text-anchor="middle" font-weight="normal" fill="#222" >+</text>
<line x1="358.7" y1="291.3" x2="370.5" y2="291.3" stroke="#111" stroke-width="1.3" />
<text transform="translate(366.85,294.2) rotate(-90)" font-size="6.6" text-anchor="end" font-weight="normal" fill="#111" stroke="#111" stroke-width="0.05">MEP</text>
<rect x="388" y="276.92" width="5.7" height="2.38" fill="#2f5fe8" stroke="#1b2d80" stroke-width="0.7"/>
<rect x="394.2" y="234.95" width="5.7" height="44.35" fill="#2f5fe8" stroke="#1b2d80" stroke-width="0.7"/>
<line x1="397.05" y1="234.95" x2="397.05" y2="234.68" stroke="#1b2d80" stroke-width="0.7" />
<line x1="395.85" y1="234.68" x2="398.25" y2="234.68" stroke="#1b2d80" stroke-width="0.7" />
<rect x="402.4" y="270.59" width="5.7" height="8.71" fill="#2e9462" stroke="#1d4430" stroke-width="0.7"/>
<rect x="408.6" y="236.27" width="5.7" height="43.03" fill="#2e9462" stroke="#1d4430" stroke-width="0.7"/>
<line x1="411.45" y1="236.27" x2="411.45" y2="234.95" stroke="#1d4430" stroke-width="0.7" />
<line x1="410.25" y1="234.95" x2="412.65" y2="234.95" stroke="#1d4430" stroke-width="0.7" />
<rect x="416.5" y="273.76" width="5.7" height="5.54" fill="#fdfcb0" stroke="#5a5a3a" stroke-width="0.7"/>
<rect x="422.7" y="272.96" width="5.7" height="6.34" fill="#fdfcb0" stroke="#5a5a3a" stroke-width="0.7"/>
<rect x="431.6" y="277.19" width="5.7" height="2.11" fill="#ee1a1a" stroke="#7a1010" stroke-width="0.7"/>
<rect x="437.8" y="246.04" width="5.7" height="33.26" fill="#ee1a1a" stroke="#7a1010" stroke-width="0.7"/>
<line x1="440.65" y1="246.04" x2="440.65" y2="244.19" stroke="#7a1010" stroke-width="0.7" />
<line x1="439.45" y1="244.19" x2="441.85" y2="244.19" stroke="#7a1010" stroke-width="0.7" />
<line x1="386.2" y1="226.5" x2="386.2" y2="279.3" stroke="#555" stroke-width="0.6" />
<line x1="386.2" y1="279.3" x2="443.5" y2="279.3" stroke="#555" stroke-width="0.6" />
<line x1="384.9" y1="279.3" x2="386.2" y2="279.3" stroke="#555" stroke-width="0.5" />
<text x="383.2" y="280.9" font-size="4.8" text-anchor="end" font-weight="normal" fill="#444" >0</text>
<line x1="384.9" y1="266.1" x2="386.2" y2="266.1" stroke="#555" stroke-width="0.5" />
<text x="383.2" y="267.7" font-size="4.8" text-anchor="end" font-weight="normal" fill="#444" >5</text>
<line x1="384.9" y1="252.9" x2="386.2" y2="252.9" stroke="#555" stroke-width="0.5" />
<text x="383.2" y="254.5" font-size="4.8" text-anchor="end" font-weight="normal" fill="#444" >10</text>
<line x1="384.9" y1="239.7" x2="386.2" y2="239.7" stroke="#555" stroke-width="0.5" />
<text x="383.2" y="241.3" font-size="4.8" text-anchor="end" font-weight="normal" fill="#444" >15</text>
<line x1="384.9" y1="226.5" x2="386.2" y2="226.5" stroke="#555" stroke-width="0.5" />
<text x="383.2" y="228.1" font-size="4.8" text-anchor="end" font-weight="normal" fill="#444" >20</text>
<text x="442" y="232.3" font-size="8.2" text-anchor="end" font-weight="normal" fill="#111" stroke="#111" stroke-width="0.2" >IGFBP4</text>
<text x="390.45" y="287.8" font-size="7" text-anchor="middle" font-weight="normal" fill="#222" >-</text>
<text x="396.55" y="287.8" font-size="7" text-anchor="middle" font-weight="normal" fill="#222" >+</text>
<line x1="387.9" y1="291.3" x2="399.9" y2="291.3" stroke="#111" stroke-width="1.3" />
<text transform="translate(396.15,294.2) rotate(-90)" font-size="6.6" text-anchor="end" font-weight="normal" fill="#111" stroke="#111" stroke-width="0.05">HSC</text>
<text x="404.85" y="287.8" font-size="7" text-anchor="middle" font-weight="normal" fill="#222" >-</text>
<text x="410.95" y="287.8" font-size="7" text-anchor="middle" font-weight="normal" fill="#222" >+</text>
<line x1="402.3" y1="291.3" x2="414.3" y2="291.3" stroke="#111" stroke-width="1.3" />
<text transform="translate(410.55,294.2) rotate(-90)" font-size="6.6" text-anchor="end" font-weight="normal" fill="#111" stroke="#111" stroke-width="0.05">CMP</text>
<text x="418.95" y="287.8" font-size="7" text-anchor="middle" font-weight="normal" fill="#222" >-</text>
<text x="425.05" y="287.8" font-size="7" text-anchor="middle" font-weight="normal" fill="#222" >+</text>
<line x1="416.4" y1="291.3" x2="428.4" y2="291.3" stroke="#111" stroke-width="1.3" />
<text transform="translate(424.65,294.2) rotate(-90)" font-size="6.6" text-anchor="end" font-weight="normal" fill="#111" stroke="#111" stroke-width="0.05">GMP</text>
<text x="434.05" y="287.8" font-size="7" text-anchor="middle" font-weight="normal" fill="#222" >-</text>
<text x="440.15" y="287.8" font-size="7" text-anchor="middle" font-weight="normal" fill="#222" >+</text>
<line x1="431.5" y1="291.3" x2="443.5" y2="291.3" stroke="#111" stroke-width="1.3" />
<text transform="translate(439.75,294.2) rotate(-90)" font-size="6.6" text-anchor="end" font-weight="normal" fill="#111" stroke="#111" stroke-width="0.05">MEP</text>
<rect x="462.2" y="278.97" width="5.8" height="0.33" fill="#2f5fe8" stroke="#1b2d80" stroke-width="0.7"/>
<rect x="468.2" y="232.44" width="5.8" height="46.86" fill="#2f5fe8" stroke="#1b2d80" stroke-width="0.7"/>
<line x1="471.1" y1="232.44" x2="471.1" y2="231.45" stroke="#1b2d80" stroke-width="0.7" />
<line x1="469.9" y1="231.45" x2="472.3" y2="231.45" stroke="#1b2d80" stroke-width="0.7" />
<rect x="476.2" y="275.01" width="5.8" height="4.29" fill="#2e9462" stroke="#1d4430" stroke-width="0.7"/>
<rect x="482.2" y="259.5" width="5.8" height="19.8" fill="#2e9462" stroke="#1d4430" stroke-width="0.7"/>
<line x1="485.1" y1="259.5" x2="485.1" y2="257.19" stroke="#1d4430" stroke-width="0.7" />
<line x1="483.9" y1="257.19" x2="486.3" y2="257.19" stroke="#1d4430" stroke-width="0.7" />
<rect x="490.2" y="276.99" width="5.8" height="2.31" fill="#fdfcb0" stroke="#5a5a3a" stroke-width="0.7"/>
<rect x="496.2" y="276.99" width="5.8" height="2.31" fill="#fdfcb0" stroke="#5a5a3a" stroke-width="0.7"/>
<rect x="504" y="278.97" width="5.8" height="0.33" fill="#ee1a1a" stroke="#7a1010" stroke-width="0.7"/>
<rect x="510" y="277.32" width="5.8" height="1.98" fill="#ee1a1a" stroke="#7a1010" stroke-width="0.7"/>
<line x1="460.1" y1="226.5" x2="460.1" y2="279.3" stroke="#555" stroke-width="0.6" />
<line x1="460.1" y1="279.3" x2="515.5" y2="279.3" stroke="#555" stroke-width="0.6" />
<line x1="458.8" y1="279.3" x2="460.1" y2="279.3" stroke="#555" stroke-width="0.5" />
<text x="457.1" y="280.9" font-size="4.8" text-anchor="end" font-weight="normal" fill="#444" >0</text>
<line x1="458.8" y1="272.7" x2="460.1" y2="272.7" stroke="#555" stroke-width="0.5" />
<text x="457.1" y="274.3" font-size="4.8" text-anchor="end" font-weight="normal" fill="#444" >20</text>
<line x1="458.8" y1="266.1" x2="460.1" y2="266.1" stroke="#555" stroke-width="0.5" />
<text x="457.1" y="267.7" font-size="4.8" text-anchor="end" font-weight="normal" fill="#444" >40</text>
<line x1="458.8" y1="259.5" x2="460.1" y2="259.5" stroke="#555" stroke-width="0.5" />
<text x="457.1" y="261.1" font-size="4.8" text-anchor="end" font-weight="normal" fill="#444" >60</text>
<line x1="458.8" y1="252.9" x2="460.1" y2="252.9" stroke="#555" stroke-width="0.5" />
<text x="457.1" y="254.5" font-size="4.8" text-anchor="end" font-weight="normal" fill="#444" >80</text>
<line x1="458.8" y1="246.3" x2="460.1" y2="246.3" stroke="#555" stroke-width="0.5" />
<text x="457.1" y="247.9" font-size="4.8" text-anchor="end" font-weight="normal" fill="#444" >100</text>
<line x1="458.8" y1="239.7" x2="460.1" y2="239.7" stroke="#555" stroke-width="0.5" />
<text x="457.1" y="241.3" font-size="4.8" text-anchor="end" font-weight="normal" fill="#444" >120</text>
<line x1="458.8" y1="233.1" x2="460.1" y2="233.1" stroke="#555" stroke-width="0.5" />
<text x="457.1" y="234.7" font-size="4.8" text-anchor="end" font-weight="normal" fill="#444" >140</text>
<line x1="458.8" y1="226.5" x2="460.1" y2="226.5" stroke="#555" stroke-width="0.5" />
<text x="457.1" y="228.1" font-size="4.8" text-anchor="end" font-weight="normal" fill="#444" >160</text>
<text x="513.6" y="232.3" font-size="8.2" text-anchor="end" font-weight="normal" fill="#111" stroke="#111" stroke-width="0.2" >IL8</text>
<text x="464.7" y="287.8" font-size="7" text-anchor="middle" font-weight="normal" fill="#222" >-</text>
<text x="470.6" y="287.8" font-size="7" text-anchor="middle" font-weight="normal" fill="#222" >+</text>
<line x1="462.1" y1="291.3" x2="474" y2="291.3" stroke="#111" stroke-width="1.3" />
<text transform="translate(470.3,294.2) rotate(-90)" font-size="6.6" text-anchor="end" font-weight="normal" fill="#111" stroke="#111" stroke-width="0.05">HSC</text>
<text x="478.7" y="287.8" font-size="7" text-anchor="middle" font-weight="normal" fill="#222" >-</text>
<text x="484.6" y="287.8" font-size="7" text-anchor="middle" font-weight="normal" fill="#222" >+</text>
<line x1="476.1" y1="291.3" x2="488" y2="291.3" stroke="#111" stroke-width="1.3" />
<text transform="translate(484.3,294.2) rotate(-90)" font-size="6.6" text-anchor="end" font-weight="normal" fill="#111" stroke="#111" stroke-width="0.05">CMP</text>
<text x="492.7" y="287.8" font-size="7" text-anchor="middle" font-weight="normal" fill="#222" >-</text>
<text x="498.6" y="287.8" font-size="7" text-anchor="middle" font-weight="normal" fill="#222" >+</text>
<line x1="490.1" y1="291.3" x2="502" y2="291.3" stroke="#111" stroke-width="1.3" />
<text transform="translate(498.3,294.2) rotate(-90)" font-size="6.6" text-anchor="end" font-weight="normal" fill="#111" stroke="#111" stroke-width="0.05">GMP</text>
<text x="506.5" y="287.8" font-size="7" text-anchor="middle" font-weight="normal" fill="#222" >-</text>
<text x="512.4" y="287.8" font-size="7" text-anchor="middle" font-weight="normal" fill="#222" >+</text>
<line x1="503.9" y1="291.3" x2="515.8" y2="291.3" stroke="#111" stroke-width="1.3" />
<text transform="translate(512.1,294.2) rotate(-90)" font-size="6.6" text-anchor="end" font-weight="normal" fill="#111" stroke="#111" stroke-width="0.05">MEP</text>
<text transform="translate(12.6,252.4) rotate(-90)" font-size="4.8" text-anchor="middle" font-weight="normal" fill="#666">rel mRNA expression (QPCR)</text>
<text x="3.7" y="289.9" font-size="6.7" text-anchor="start" font-weight="normal" fill="#111" stroke="#111" stroke-width="0.2" >4OHT:</text>
<text x="16.6" y="334.9" font-size="11.5" text-anchor="start" font-weight="bold" fill="#000" >F</text>
<rect x="80.85" y="380.92" width="9.8" height="26.48" fill="#2f5fe8" stroke="#1b2d80" stroke-width="0.9"/>
<rect x="95" y="401.85" width="9.8" height="5.55" fill="#2e9462" stroke="#1d4430" stroke-width="0.9"/>
<rect x="109.15" y="380" width="9.8" height="27.4" fill="#2e9462" stroke="#1d4430" stroke-width="0.9"/>
<rect x="123.3" y="405.55" width="9.8" height="1.85" fill="#fdfcb0" stroke="#5a5a3a" stroke-width="0.9"/>
<rect x="137.45" y="406.84" width="9.8" height="0.56" fill="#fdfcb0" stroke="#5a5a3a" stroke-width="0.9"/>
<rect x="165.75" y="396.48" width="9.8" height="10.92" fill="#ee1a1a" stroke="#7a1010" stroke-width="0.9"/>
<rect x="179.9" y="407.03" width="9.8" height="0.37" fill="#ffffff" stroke="#333333" stroke-width="0.9"/>
<rect x="194.05" y="382.04" width="9.8" height="25.36" fill="#c8c8c8" stroke="#333333" stroke-width="0.9"/>
<rect x="208.2" y="398.51" width="9.8" height="8.89" fill="#ffffff" stroke="#333333" stroke-width="0.9"/>
<rect x="222.35" y="349.08" width="9.8" height="58.32" fill="#c8c8c8" stroke="#333333" stroke-width="0.9"/>
<line x1="63.6" y1="342.6" x2="63.6" y2="407.4" stroke="#444" stroke-width="0.6" />
<line x1="63.6" y1="407.4" x2="234.4" y2="407.4" stroke="#444" stroke-width="0.6" />
<line x1="64.6" y1="407.4" x2="64.6" y2="408.7" stroke="#444" stroke-width="0.5" />
<line x1="78.75" y1="407.4" x2="78.75" y2="408.7" stroke="#444" stroke-width="0.5" />
<line x1="92.9" y1="407.4" x2="92.9" y2="408.7" stroke="#444" stroke-width="0.5" />
<line x1="107.05" y1="407.4" x2="107.05" y2="408.7" stroke="#444" stroke-width="0.5" />
<line x1="121.2" y1="407.4" x2="121.2" y2="408.7" stroke="#444" stroke-width="0.5" />
<line x1="135.35" y1="407.4" x2="135.35" y2="408.7" stroke="#444" stroke-width="0.5" />
<line x1="149.5" y1="407.4" x2="149.5" y2="408.7" stroke="#444" stroke-width="0.5" />
<line x1="163.65" y1="407.4" x2="163.65" y2="408.7" stroke="#444" stroke-width="0.5" />
<line x1="177.8" y1="407.4" x2="177.8" y2="408.7" stroke="#444" stroke-width="0.5" />
<line x1="191.95" y1="407.4" x2="191.95" y2="408.7" stroke="#444" stroke-width="0.5" />
<line x1="206.1" y1="407.4" x2="206.1" y2="408.7" stroke="#444" stroke-width="0.5" />
<line x1="220.25" y1="407.4" x2="220.25" y2="408.7" stroke="#444" stroke-width="0.5" />
<line x1="234.4" y1="407.4" x2="234.4" y2="408.7" stroke="#444" stroke-width="0.5" />
<line x1="62.3" y1="407.4" x2="63.6" y2="407.4" stroke="#444" stroke-width="0.5" />
<text x="59.6" y="409.4" font-size="5.8" text-anchor="end" font-weight="normal" fill="#333" stroke="#333" stroke-width="0.08" >0</text>
<line x1="62.3" y1="398.14" x2="63.6" y2="398.14" stroke="#444" stroke-width="0.5" />
<text x="59.6" y="400.14" font-size="5.8" text-anchor="end" font-weight="normal" fill="#333" stroke="#333" stroke-width="0.08" >50</text>
<line x1="62.3" y1="388.89" x2="63.6" y2="388.89" stroke="#444" stroke-width="0.5" />
<text x="59.6" y="390.89" font-size="5.8" text-anchor="end" font-weight="normal" fill="#333" stroke="#333" stroke-width="0.08" >100</text>
<line x1="62.3" y1="379.63" x2="63.6" y2="379.63" stroke="#444" stroke-width="0.5" />
<text x="59.6" y="381.63" font-size="5.8" text-anchor="end" font-weight="normal" fill="#333" stroke="#333" stroke-width="0.08" >150</text>
<line x1="62.3" y1="370.37" x2="63.6" y2="370.37" stroke="#444" stroke-width="0.5" />
<text x="59.6" y="372.37" font-size="5.8" text-anchor="end" font-weight="normal" fill="#333" stroke="#333" stroke-width="0.08" >200</text>
<line x1="62.3" y1="361.11" x2="63.6" y2="361.11" stroke="#444" stroke-width="0.5" />
<text x="59.6" y="363.11" font-size="5.8" text-anchor="end" font-weight="normal" fill="#333" stroke="#333" stroke-width="0.08" >250</text>
<line x1="62.3" y1="351.86" x2="63.6" y2="351.86" stroke="#444" stroke-width="0.5" />
<text x="59.6" y="353.86" font-size="5.8" text-anchor="end" font-weight="normal" fill="#333" stroke="#333" stroke-width="0.08" >300</text>
<line x1="62.3" y1="342.6" x2="63.6" y2="342.6" stroke="#444" stroke-width="0.5" />
<text x="59.6" y="344.6" font-size="5.8" text-anchor="end" font-weight="normal" fill="#333" stroke="#333" stroke-width="0.08" >350</text>
<text transform="translate(37.72,375.2) rotate(-90)" font-size="6.1" text-anchor="middle" font-weight="normal" fill="#444" stroke="#444" stroke-width="0.05">rel mRNA expression</text>
<text transform="translate(44.72,375.2) rotate(-90)" font-size="6.1" text-anchor="middle" font-weight="normal" fill="#555">(Illumina)</text>
<line x1="73" y1="351.8" x2="173.5" y2="351.8" stroke="#adadad" stroke-width="1.2" />
<rect x="76" y="342.7" width="17.7" height="8.8" fill="#6fa343" stroke="#5d8e38" stroke-width="0.5"/>
<text x="84.85" y="349.2" font-size="5.4" text-anchor="middle" font-weight="normal" fill="#17260a" stroke="#17260a" stroke-width="0.2" >5845</text>
<rect x="146.6" y="342.7" width="17.4" height="8.8" fill="#6fa343" stroke="#5d8e38" stroke-width="0.5"/>
<text x="155.3" y="349.2" font-size="5.4" text-anchor="middle" font-weight="normal" fill="#17260a" stroke="#17260a" stroke-width="0.2" >344</text>
<path d="M166.9,351.8 V346.2 H173.4" fill="none" stroke="#000" stroke-width="1.1"/>
<polygon points="176.4,346.2 172.9,344.1 172.9,348.3" fill="#000"/>
<text x="179.6" y="351.5" font-size="8.3" text-anchor="start" font-weight="normal" fill="#111" stroke="#111" stroke-width="0.2" >HIF2&#945;</text>
<rect x="65.2" y="472.62" width="9.8" height="20.28" fill="#2f5fe8" stroke="#1b2d80" stroke-width="0.9"/>
<rect x="79.66" y="441.41" width="9.8" height="51.49" fill="#2f5fe8" stroke="#1b2d80" stroke-width="0.9"/>
<rect x="94.12" y="492.37" width="9.8" height="0.53" fill="#2e9462" stroke="#1d4430" stroke-width="0.9"/>
<rect x="108.58" y="490.5" width="9.8" height="2.4" fill="#2e9462" stroke="#1d4430" stroke-width="0.9"/>
<rect x="123.04" y="471.29" width="9.8" height="21.61" fill="#fdfcb0" stroke="#5a5a3a" stroke-width="0.9"/>
<rect x="137.5" y="477.16" width="9.8" height="15.74" fill="#fdfcb0" stroke="#5a5a3a" stroke-width="0.9"/>
<rect x="151.96" y="492.37" width="9.8" height="0.53" fill="#ee1a1a" stroke="#7a1010" stroke-width="0.9"/>
<rect x="180.88" y="480.36" width="9.8" height="12.54" fill="#ffffff" stroke="#333333" stroke-width="0.9"/>
<rect x="195.34" y="465.42" width="9.8" height="27.48" fill="#c8c8c8" stroke="#333333" stroke-width="0.9"/>
<rect x="209.8" y="476.09" width="9.8" height="16.81" fill="#ffffff" stroke="#333333" stroke-width="0.9"/>
<rect x="224.26" y="450.21" width="9.8" height="42.69" fill="#c8c8c8" stroke="#333333" stroke-width="0.9"/>
<line x1="62.6" y1="426.2" x2="62.6" y2="492.9" stroke="#444" stroke-width="0.6" />
<line x1="62.6" y1="492.9" x2="236.42" y2="492.9" stroke="#444" stroke-width="0.6" />
<line x1="62.9" y1="492.9" x2="62.9" y2="494.2" stroke="#444" stroke-width="0.5" />
<line x1="77.36" y1="492.9" x2="77.36" y2="494.2" stroke="#444" stroke-width="0.5" />
<line x1="91.82" y1="492.9" x2="91.82" y2="494.2" stroke="#444" stroke-width="0.5" />
<line x1="106.28" y1="492.9" x2="106.28" y2="494.2" stroke="#444" stroke-width="0.5" />
<line x1="120.74" y1="492.9" x2="120.74" y2="494.2" stroke="#444" stroke-width="0.5" />
<line x1="135.2" y1="492.9" x2="135.2" y2="494.2" stroke="#444" stroke-width="0.5" />
<line x1="149.66" y1="492.9" x2="149.66" y2="494.2" stroke="#444" stroke-width="0.5" />
<line x1="164.12" y1="492.9" x2="164.12" y2="494.2" stroke="#444" stroke-width="0.5" />
<line x1="178.58" y1="492.9" x2="178.58" y2="494.2" stroke="#444" stroke-width="0.5" />
<line x1="193.04" y1="492.9" x2="193.04" y2="494.2" stroke="#444" stroke-width="0.5" />
<line x1="207.5" y1="492.9" x2="207.5" y2="494.2" stroke="#444" stroke-width="0.5" />
<line x1="221.96" y1="492.9" x2="221.96" y2="494.2" stroke="#444" stroke-width="0.5" />
<line x1="236.42" y1="492.9" x2="236.42" y2="494.2" stroke="#444" stroke-width="0.5" />
<line x1="61.3" y1="492.9" x2="62.6" y2="492.9" stroke="#444" stroke-width="0.5" />
<text x="58.6" y="494.9" font-size="5.8" text-anchor="end" font-weight="normal" fill="#333" stroke="#333" stroke-width="0.08" >0</text>
<line x1="61.3" y1="479.56" x2="62.6" y2="479.56" stroke="#444" stroke-width="0.5" />
<text x="58.6" y="481.56" font-size="5.8" text-anchor="end" font-weight="normal" fill="#333" stroke="#333" stroke-width="0.08" >50</text>
<line x1="61.3" y1="466.22" x2="62.6" y2="466.22" stroke="#444" stroke-width="0.5" />
<text x="58.6" y="468.22" font-size="5.8" text-anchor="end" font-weight="normal" fill="#333" stroke="#333" stroke-width="0.08" >100</text>
<line x1="61.3" y1="452.88" x2="62.6" y2="452.88" stroke="#444" stroke-width="0.5" />
<text x="58.6" y="454.88" font-size="5.8" text-anchor="end" font-weight="normal" fill="#333" stroke="#333" stroke-width="0.08" >150</text>
<line x1="61.3" y1="439.54" x2="62.6" y2="439.54" stroke="#444" stroke-width="0.5" />
<text x="58.6" y="441.54" font-size="5.8" text-anchor="end" font-weight="normal" fill="#333" stroke="#333" stroke-width="0.08" >200</text>
<line x1="61.3" y1="426.2" x2="62.6" y2="426.2" stroke="#444" stroke-width="0.5" />
<text x="58.6" y="428.2" font-size="5.8" text-anchor="end" font-weight="normal" fill="#333" stroke="#333" stroke-width="0.08" >250</text>
<text transform="translate(36.82,460.2) rotate(-90)" font-size="6.1" text-anchor="middle" font-weight="normal" fill="#444" stroke="#444" stroke-width="0.05">rel mRNA expression</text>
<text transform="translate(45.42,460.2) rotate(-90)" font-size="6.1" text-anchor="middle" font-weight="normal" fill="#555">(Illumina)</text>
<line x1="72.7" y1="438.3" x2="171.5" y2="438.3" stroke="#adadad" stroke-width="1.2" />
<rect x="76.5" y="429.2" width="17.2" height="8.8" fill="#6fa343" stroke="#5d8e38" stroke-width="0.5"/>
<text x="85.1" y="435.7" font-size="5.4" text-anchor="middle" font-weight="normal" fill="#17260a" stroke="#17260a" stroke-width="0.2" >5706</text>
<rect x="126.9" y="429.2" width="16.6" height="8.8" fill="#6fa343" stroke="#5d8e38" stroke-width="0.5"/>
<text x="135.2" y="435.7" font-size="5.4" text-anchor="middle" font-weight="normal" fill="#17260a" stroke="#17260a" stroke-width="0.2" >1880</text>
<path d="M171.5,438.3 V432.7 H178" fill="none" stroke="#000" stroke-width="1.1"/>
<polygon points="181,432.7 177.5,430.6 177.5,434.8" fill="#000"/>
<text x="181.9" y="438" font-size="8.3" text-anchor="start" font-weight="normal" fill="#111" stroke="#111" stroke-width="0.2" >GPR171</text>
<rect x="65.4" y="566.08" width="9.8" height="9.32" fill="#2f5fe8" stroke="#1b2d80" stroke-width="0.9"/>
<rect x="79.86" y="536.47" width="9.8" height="38.93" fill="#2f5fe8" stroke="#1b2d80" stroke-width="0.9"/>
<rect x="94.32" y="562.24" width="9.8" height="13.16" fill="#2e9462" stroke="#1d4430" stroke-width="0.9"/>
<rect x="108.78" y="544.69" width="9.8" height="30.71" fill="#2e9462" stroke="#1d4430" stroke-width="0.9"/>
<rect x="123.24" y="568" width="9.8" height="7.4" fill="#fdfcb0" stroke="#5a5a3a" stroke-width="0.9"/>
<rect x="137.7" y="569.92" width="9.8" height="5.48" fill="#fdfcb0" stroke="#5a5a3a" stroke-width="0.9"/>
<rect x="152.16" y="571.67" width="9.8" height="3.73" fill="#ee1a1a" stroke="#7a1010" stroke-width="0.9"/>
<rect x="166.62" y="545.79" width="9.8" height="29.61" fill="#ee1a1a" stroke="#7a1010" stroke-width="0.9"/>
<rect x="181.08" y="560.21" width="9.8" height="15.19" fill="#ffffff" stroke="#333333" stroke-width="0.9"/>
<rect x="195.54" y="522.6" width="9.8" height="52.8" fill="#c8c8c8" stroke="#333333" stroke-width="0.9"/>
<rect x="210" y="552.1" width="9.8" height="23.3" fill="#ffffff" stroke="#333333" stroke-width="0.9"/>
<rect x="224.46" y="516.67" width="9.8" height="58.73" fill="#c8c8c8" stroke="#333333" stroke-width="0.9"/>
<line x1="62.6" y1="509.6" x2="62.6" y2="575.4" stroke="#444" stroke-width="0.6" />
<line x1="62.6" y1="575.4" x2="236.82" y2="575.4" stroke="#444" stroke-width="0.6" />
<line x1="63.3" y1="575.4" x2="63.3" y2="576.7" stroke="#444" stroke-width="0.5" />
<line x1="77.76" y1="575.4" x2="77.76" y2="576.7" stroke="#444" stroke-width="0.5" />
<line x1="92.22" y1="575.4" x2="92.22" y2="576.7" stroke="#444" stroke-width="0.5" />
<line x1="106.68" y1="575.4" x2="106.68" y2="576.7" stroke="#444" stroke-width="0.5" />
<line x1="121.14" y1="575.4" x2="121.14" y2="576.7" stroke="#444" stroke-width="0.5" />
<line x1="135.6" y1="575.4" x2="135.6" y2="576.7" stroke="#444" stroke-width="0.5" />
<line x1="150.06" y1="575.4" x2="150.06" y2="576.7" stroke="#444" stroke-width="0.5" />
<line x1="164.52" y1="575.4" x2="164.52" y2="576.7" stroke="#444" stroke-width="0.5" />
<line x1="178.98" y1="575.4" x2="178.98" y2="576.7" stroke="#444" stroke-width="0.5" />
<line x1="193.44" y1="575.4" x2="193.44" y2="576.7" stroke="#444" stroke-width="0.5" />
<line x1="207.9" y1="575.4" x2="207.9" y2="576.7" stroke="#444" stroke-width="0.5" />
<line x1="222.36" y1="575.4" x2="222.36" y2="576.7" stroke="#444" stroke-width="0.5" />
<line x1="236.82" y1="575.4" x2="236.82" y2="576.7" stroke="#444" stroke-width="0.5" />
<line x1="61.3" y1="575.4" x2="62.6" y2="575.4" stroke="#444" stroke-width="0.5" />
<text x="58.6" y="577.4" font-size="5.8" text-anchor="end" font-weight="normal" fill="#333" stroke="#333" stroke-width="0.08" >0</text>
<line x1="61.3" y1="564.43" x2="62.6" y2="564.43" stroke="#444" stroke-width="0.5" />
<text x="58.6" y="566.43" font-size="5.8" text-anchor="end" font-weight="normal" fill="#333" stroke="#333" stroke-width="0.08" >2000</text>
<line x1="61.3" y1="553.47" x2="62.6" y2="553.47" stroke="#444" stroke-width="0.5" />
<text x="58.6" y="555.47" font-size="5.8" text-anchor="end" font-weight="normal" fill="#333" stroke="#333" stroke-width="0.08" >4000</text>
<line x1="61.3" y1="542.5" x2="62.6" y2="542.5" stroke="#444" stroke-width="0.5" />
<text x="58.6" y="544.5" font-size="5.8" text-anchor="end" font-weight="normal" fill="#333" stroke="#333" stroke-width="0.08" >6000</text>
<line x1="61.3" y1="531.53" x2="62.6" y2="531.53" stroke="#444" stroke-width="0.5" />
<text x="58.6" y="533.53" font-size="5.8" text-anchor="end" font-weight="normal" fill="#333" stroke="#333" stroke-width="0.08" >8000</text>
<line x1="61.3" y1="520.57" x2="62.6" y2="520.57" stroke="#444" stroke-width="0.5" />
<text x="58.6" y="522.57" font-size="5.8" text-anchor="end" font-weight="normal" fill="#333" stroke="#333" stroke-width="0.08" >10000</text>
<line x1="61.3" y1="509.6" x2="62.6" y2="509.6" stroke="#444" stroke-width="0.5" />
<text x="58.6" y="511.6" font-size="5.8" text-anchor="end" font-weight="normal" fill="#333" stroke="#333" stroke-width="0.08" >12000</text>
<text transform="translate(30.82,543.2) rotate(-90)" font-size="6.1" text-anchor="middle" font-weight="normal" fill="#444" stroke="#444" stroke-width="0.05">rel mRNA expression</text>
<text transform="translate(39.62,543.2) rotate(-90)" font-size="6.1" text-anchor="middle" font-weight="normal" fill="#555">(Illumina)</text>
<line x1="72.8" y1="513.6" x2="174.5" y2="513.6" stroke="#adadad" stroke-width="1.2" />
<rect x="97.4" y="504.5" width="17.1" height="8.8" fill="#6fa343" stroke="#5d8e38" stroke-width="0.5"/>
<text x="105.95" y="511" font-size="5.4" text-anchor="middle" font-weight="normal" fill="#17260a" stroke="#17260a" stroke-width="0.2" >2531</text>
<rect x="126.5" y="504.5" width="17.1" height="8.8" fill="#6fa343" stroke="#5d8e38" stroke-width="0.5"/>
<text x="135.05" y="511" font-size="5.4" text-anchor="middle" font-weight="normal" fill="#17260a" stroke="#17260a" stroke-width="0.2" >1353</text>
<path d="M165.8,513.6 V508 H172.3" fill="none" stroke="#000" stroke-width="1.1"/>
<polygon points="175.3,508 171.8,505.9 171.8,510.1" fill="#000"/>
<text x="186" y="513.3" font-size="8.3" text-anchor="start" font-weight="normal" fill="#111" stroke="#111" stroke-width="0.2" >PIM1</text>
<rect x="295.7" y="405.17" width="9.8" height="2.72" fill="#2f5fe8" stroke="#1b2d80" stroke-width="0.9"/>
<rect x="309.99" y="353.07" width="9.8" height="54.83" fill="#2f5fe8" stroke="#1b2d80" stroke-width="0.9"/>
<rect x="324.28" y="395.37" width="9.8" height="12.53" fill="#2e9462" stroke="#1d4430" stroke-width="0.9"/>
<rect x="338.57" y="370.4" width="9.8" height="37.5" fill="#2e9462" stroke="#1d4430" stroke-width="0.9"/>
<rect x="352.86" y="399.72" width="9.8" height="8.17" fill="#fdfcb0" stroke="#5a5a3a" stroke-width="0.9"/>
<rect x="367.15" y="401.36" width="9.8" height="6.54" fill="#fdfcb0" stroke="#5a5a3a" stroke-width="0.9"/>
<rect x="381.44" y="402.67" width="9.8" height="5.23" fill="#ee1a1a" stroke="#7a1010" stroke-width="0.9"/>
<rect x="395.73" y="371.06" width="9.8" height="36.84" fill="#ee1a1a" stroke="#7a1010" stroke-width="0.9"/>
<rect x="410.02" y="404.41" width="9.8" height="3.49" fill="#ffffff" stroke="#333333" stroke-width="0.9"/>
<rect x="424.31" y="388.28" width="9.8" height="19.62" fill="#c8c8c8" stroke="#333333" stroke-width="0.9"/>
<rect x="438.6" y="399.83" width="9.8" height="8.07" fill="#ffffff" stroke="#333333" stroke-width="0.9"/>
<rect x="452.89" y="369.97" width="9.8" height="37.93" fill="#c8c8c8" stroke="#333333" stroke-width="0.9"/>
<line x1="293.7" y1="342.5" x2="293.7" y2="407.9" stroke="#444" stroke-width="0.6" />
<line x1="293.7" y1="407.9" x2="465.18" y2="407.9" stroke="#444" stroke-width="0.6" />
<line x1="293.7" y1="407.9" x2="293.7" y2="409.2" stroke="#444" stroke-width="0.5" />
<line x1="307.99" y1="407.9" x2="307.99" y2="409.2" stroke="#444" stroke-width="0.5" />
<line x1="322.28" y1="407.9" x2="322.28" y2="409.2" stroke="#444" stroke-width="0.5" />
<line x1="336.57" y1="407.9" x2="336.57" y2="409.2" stroke="#444" stroke-width="0.5" />
<line x1="350.86" y1="407.9" x2="350.86" y2="409.2" stroke="#444" stroke-width="0.5" />
<line x1="365.15" y1="407.9" x2="365.15" y2="409.2" stroke="#444" stroke-width="0.5" />
<line x1="379.44" y1="407.9" x2="379.44" y2="409.2" stroke="#444" stroke-width="0.5" />
<line x1="393.73" y1="407.9" x2="393.73" y2="409.2" stroke="#444" stroke-width="0.5" />
<line x1="408.02" y1="407.9" x2="408.02" y2="409.2" stroke="#444" stroke-width="0.5" />
<line x1="422.31" y1="407.9" x2="422.31" y2="409.2" stroke="#444" stroke-width="0.5" />
<line x1="436.6" y1="407.9" x2="436.6" y2="409.2" stroke="#444" stroke-width="0.5" />
<line x1="450.89" y1="407.9" x2="450.89" y2="409.2" stroke="#444" stroke-width="0.5" />
<line x1="465.18" y1="407.9" x2="465.18" y2="409.2" stroke="#444" stroke-width="0.5" />
<line x1="292.4" y1="407.9" x2="293.7" y2="407.9" stroke="#444" stroke-width="0.5" />
<text x="289" y="409.9" font-size="5.8" text-anchor="end" font-weight="normal" fill="#333" stroke="#333" stroke-width="0.08" >0</text>
<line x1="292.4" y1="397" x2="293.7" y2="397" stroke="#444" stroke-width="0.5" />
<text x="289" y="399" font-size="5.8" text-anchor="end" font-weight="normal" fill="#333" stroke="#333" stroke-width="0.08" >100</text>
<line x1="292.4" y1="386.1" x2="293.7" y2="386.1" stroke="#444" stroke-width="0.5" />
<text x="289" y="388.1" font-size="5.8" text-anchor="end" font-weight="normal" fill="#333" stroke="#333" stroke-width="0.08" >200</text>
<line x1="292.4" y1="375.2" x2="293.7" y2="375.2" stroke="#444" stroke-width="0.5" />
<text x="289" y="377.2" font-size="5.8" text-anchor="end" font-weight="normal" fill="#333" stroke="#333" stroke-width="0.08" >300</text>
<line x1="292.4" y1="364.3" x2="293.7" y2="364.3" stroke="#444" stroke-width="0.5" />
<text x="289" y="366.3" font-size="5.8" text-anchor="end" font-weight="normal" fill="#333" stroke="#333" stroke-width="0.08" >400</text>
<line x1="292.4" y1="353.4" x2="293.7" y2="353.4" stroke="#444" stroke-width="0.5" />
<text x="289" y="355.4" font-size="5.8" text-anchor="end" font-weight="normal" fill="#333" stroke="#333" stroke-width="0.08" >500</text>
<line x1="292.4" y1="342.5" x2="293.7" y2="342.5" stroke="#444" stroke-width="0.5" />
<text x="289" y="344.5" font-size="5.8" text-anchor="end" font-weight="normal" fill="#333" stroke="#333" stroke-width="0.08" >600</text>
<text transform="translate(267.92,375.2) rotate(-90)" font-size="6.1" text-anchor="middle" font-weight="normal" fill="#444" stroke="#444" stroke-width="0.05">rel mRNA expression</text>
<text transform="translate(275.02,375.2) rotate(-90)" font-size="6.1" text-anchor="middle" font-weight="normal" fill="#555">(Illumina)</text>
<line x1="309" y1="352" x2="411.5" y2="352" stroke="#adadad" stroke-width="1.2" />
<rect x="309" y="342.9" width="15.4" height="8.8" fill="#6fa343" stroke="#5d8e38" stroke-width="0.5"/>
<text x="316.7" y="349.4" font-size="5.4" text-anchor="middle" font-weight="normal" fill="#17260a" stroke="#17260a" stroke-width="0.2" >4007</text>
<rect x="337.9" y="342.9" width="15.4" height="8.8" fill="#6fa343" stroke="#5d8e38" stroke-width="0.5"/>
<text x="345.6" y="349.4" font-size="5.4" text-anchor="middle" font-weight="normal" fill="#17260a" stroke="#17260a" stroke-width="0.2" >1067</text>
<rect x="360.2" y="342.9" width="12.5" height="8.8" fill="#6fa343" stroke="#5d8e38" stroke-width="0.5"/>
<text x="366.45" y="349.4" font-size="5.4" text-anchor="middle" font-weight="normal" fill="#17260a" stroke="#17260a" stroke-width="0.2" >350</text>
<rect x="374.2" y="342.9" width="12.3" height="8.8" fill="#6fa343" stroke="#5d8e38" stroke-width="0.5"/>
<text x="380.35" y="349.4" font-size="5.4" text-anchor="middle" font-weight="normal" fill="#17260a" stroke="#17260a" stroke-width="0.2" >245</text>
<rect x="388" y="342.9" width="12" height="8.8" fill="#6fa343" stroke="#5d8e38" stroke-width="0.5"/>
<text x="394" y="349.4" font-size="5.4" text-anchor="middle" font-weight="normal" fill="#17260a" stroke="#17260a" stroke-width="0.2" >159</text>
<path d="M402.1,352 V346.4 H408.6" fill="none" stroke="#000" stroke-width="1.1"/>
<polygon points="411.6,346.4 408.1,344.3 408.1,348.5" fill="#000"/>
<text x="418.8" y="351.7" font-size="8.3" text-anchor="start" font-weight="normal" fill="#111" stroke="#111" stroke-width="0.2" >OSM</text>
<rect x="294.75" y="482.69" width="9.8" height="10.21" fill="#2f5fe8" stroke="#1b2d80" stroke-width="0.9"/>
<rect x="309.2" y="464.02" width="9.8" height="28.88" fill="#2f5fe8" stroke="#1b2d80" stroke-width="0.9"/>
<rect x="323.65" y="489" width="9.8" height="3.9" fill="#2e9462" stroke="#1d4430" stroke-width="0.9"/>
<rect x="338.1" y="485.6" width="9.8" height="7.3" fill="#2e9462" stroke="#1d4430" stroke-width="0.9"/>
<rect x="352.55" y="490.41" width="9.8" height="2.49" fill="#fdfcb0" stroke="#5a5a3a" stroke-width="0.9"/>
<rect x="367" y="491.41" width="9.8" height="1.49" fill="#fdfcb0" stroke="#5a5a3a" stroke-width="0.9"/>
<rect x="381.45" y="488.42" width="9.8" height="4.48" fill="#ee1a1a" stroke="#7a1010" stroke-width="0.9"/>
<rect x="395.9" y="488.17" width="9.8" height="4.73" fill="#ee1a1a" stroke="#7a1010" stroke-width="0.9"/>
<rect x="410.35" y="465.51" width="9.8" height="27.39" fill="#ffffff" stroke="#333333" stroke-width="0.9"/>
<rect x="424.8" y="435.13" width="9.8" height="57.77" fill="#c8c8c8" stroke="#333333" stroke-width="0.9"/>
<rect x="439.25" y="488.09" width="9.8" height="4.81" fill="#ffffff" stroke="#333333" stroke-width="0.9"/>
<rect x="453.7" y="482.69" width="9.8" height="10.21" fill="#c8c8c8" stroke="#333333" stroke-width="0.9"/>
<line x1="292.4" y1="426.5" x2="292.4" y2="492.9" stroke="#444" stroke-width="0.6" />
<line x1="292.4" y1="492.9" x2="465.8" y2="492.9" stroke="#444" stroke-width="0.6" />
<line x1="292.4" y1="492.9" x2="292.4" y2="494.2" stroke="#444" stroke-width="0.5" />
<line x1="306.85" y1="492.9" x2="306.85" y2="494.2" stroke="#444" stroke-width="0.5" />
<line x1="321.3" y1="492.9" x2="321.3" y2="494.2" stroke="#444" stroke-width="0.5" />
<line x1="335.75" y1="492.9" x2="335.75" y2="494.2" stroke="#444" stroke-width="0.5" />
<line x1="350.2" y1="492.9" x2="350.2" y2="494.2" stroke="#444" stroke-width="0.5" />
<line x1="364.65" y1="492.9" x2="364.65" y2="494.2" stroke="#444" stroke-width="0.5" />
<line x1="379.1" y1="492.9" x2="379.1" y2="494.2" stroke="#444" stroke-width="0.5" />
<line x1="393.55" y1="492.9" x2="393.55" y2="494.2" stroke="#444" stroke-width="0.5" />
<line x1="408" y1="492.9" x2="408" y2="494.2" stroke="#444" stroke-width="0.5" />
<line x1="422.45" y1="492.9" x2="422.45" y2="494.2" stroke="#444" stroke-width="0.5" />
<line x1="436.9" y1="492.9" x2="436.9" y2="494.2" stroke="#444" stroke-width="0.5" />
<line x1="451.35" y1="492.9" x2="451.35" y2="494.2" stroke="#444" stroke-width="0.5" />
<line x1="465.8" y1="492.9" x2="465.8" y2="494.2" stroke="#444" stroke-width="0.5" />
<line x1="291.1" y1="492.9" x2="292.4" y2="492.9" stroke="#444" stroke-width="0.5" />
<text x="288.8" y="494.9" font-size="5.8" text-anchor="end" font-weight="normal" fill="#333" stroke="#333" stroke-width="0.08" >0</text>
<line x1="291.1" y1="484.6" x2="292.4" y2="484.6" stroke="#444" stroke-width="0.5" />
<text x="288.8" y="486.6" font-size="5.8" text-anchor="end" font-weight="normal" fill="#333" stroke="#333" stroke-width="0.08" >500</text>
<line x1="291.1" y1="476.3" x2="292.4" y2="476.3" stroke="#444" stroke-width="0.5" />
<text x="288.8" y="478.3" font-size="5.8" text-anchor="end" font-weight="normal" fill="#333" stroke="#333" stroke-width="0.08" >1000</text>
<line x1="291.1" y1="468" x2="292.4" y2="468" stroke="#444" stroke-width="0.5" />
<text x="288.8" y="470" font-size="5.8" text-anchor="end" font-weight="normal" fill="#333" stroke="#333" stroke-width="0.08" >1500</text>
<line x1="291.1" y1="459.7" x2="292.4" y2="459.7" stroke="#444" stroke-width="0.5" />
<text x="288.8" y="461.7" font-size="5.8" text-anchor="end" font-weight="normal" fill="#333" stroke="#333" stroke-width="0.08" >2000</text>
<line x1="291.1" y1="451.4" x2="292.4" y2="451.4" stroke="#444" stroke-width="0.5" />
<text x="288.8" y="453.4" font-size="5.8" text-anchor="end" font-weight="normal" fill="#333" stroke="#333" stroke-width="0.08" >2500</text>
<line x1="291.1" y1="443.1" x2="292.4" y2="443.1" stroke="#444" stroke-width="0.5" />
<text x="288.8" y="445.1" font-size="5.8" text-anchor="end" font-weight="normal" fill="#333" stroke="#333" stroke-width="0.08" >3000</text>
<line x1="291.1" y1="434.8" x2="292.4" y2="434.8" stroke="#444" stroke-width="0.5" />
<text x="288.8" y="436.8" font-size="5.8" text-anchor="end" font-weight="normal" fill="#333" stroke="#333" stroke-width="0.08" >3500</text>
<line x1="291.1" y1="426.5" x2="292.4" y2="426.5" stroke="#444" stroke-width="0.5" />
<text x="288.8" y="428.5" font-size="5.8" text-anchor="end" font-weight="normal" fill="#333" stroke="#333" stroke-width="0.08" >4000</text>
<text transform="translate(263.52,459.7) rotate(-90)" font-size="6.1" text-anchor="middle" font-weight="normal" fill="#444" stroke="#444" stroke-width="0.05">rel mRNA expression</text>
<text transform="translate(270.52,459.7) rotate(-90)" font-size="6.1" text-anchor="middle" font-weight="normal" fill="#555">(Illumina)</text>
<line x1="301.3" y1="431" x2="410" y2="431" stroke="#adadad" stroke-width="1.2" />
<rect x="301.3" y="421.9" width="17.4" height="8.8" fill="#6fa343" stroke="#5d8e38" stroke-width="0.5"/>
<text x="310" y="428.4" font-size="5.4" text-anchor="middle" font-weight="normal" fill="#17260a" stroke="#17260a" stroke-width="0.2" >4869</text>
<rect x="327.7" y="421.9" width="16.7" height="8.8" fill="#6fa343" stroke="#5d8e38" stroke-width="0.5"/>
<text x="336.05" y="428.4" font-size="5.4" text-anchor="middle" font-weight="normal" fill="#17260a" stroke="#17260a" stroke-width="0.2" >3385</text>
<rect x="349.2" y="421.9" width="16.8" height="8.8" fill="#6fa343" stroke="#5d8e38" stroke-width="0.5"/>
<text x="357.6" y="428.4" font-size="5.4" text-anchor="middle" font-weight="normal" fill="#17260a" stroke="#17260a" stroke-width="0.2" >2990</text>
<rect x="371.2" y="421.9" width="16.5" height="8.8" fill="#6fa343" stroke="#5d8e38" stroke-width="0.5"/>
<text x="379.45" y="428.4" font-size="5.4" text-anchor="middle" font-weight="normal" fill="#17260a" stroke="#17260a" stroke-width="0.2" >1593</text>
<rect x="392.3" y="421.9" width="10.2" height="8.8" fill="#6fa343" stroke="#5d8e38" stroke-width="0.5"/>
<text x="397.4" y="428.4" font-size="5.4" text-anchor="middle" font-weight="normal" fill="#17260a" stroke="#17260a" stroke-width="0.2" >35</text>
<path d="M402.5,431 V425.4 H409" fill="none" stroke="#000" stroke-width="1.1"/>
<polygon points="412,425.4 408.5,423.3 408.5,427.5" fill="#000"/>
<text x="415" y="430.7" font-size="8.3" text-anchor="start" font-weight="normal" fill="#111" stroke="#111" stroke-width="0.2" >TUBB1</text>
<rect x="295.7" y="569.59" width="9.8" height="6.01" fill="#2f5fe8" stroke="#1b2d80" stroke-width="0.9"/>
<rect x="309.99" y="543.75" width="9.8" height="31.85" fill="#2f5fe8" stroke="#1b2d80" stroke-width="0.9"/>
<rect x="324.28" y="573.49" width="9.8" height="2.11" fill="#2e9462" stroke="#1d4430" stroke-width="0.9"/>
<rect x="338.57" y="567.8" width="9.8" height="7.8" fill="#2e9462" stroke="#1d4430" stroke-width="0.9"/>
<rect x="352.86" y="575.27" width="9.8" height="0.33" fill="#fdfcb0" stroke="#5a5a3a" stroke-width="0.9"/>
<rect x="381.44" y="564.55" width="9.8" height="11.05" fill="#ee1a1a" stroke="#7a1010" stroke-width="0.9"/>
<rect x="395.73" y="549.6" width="9.8" height="26" fill="#ee1a1a" stroke="#7a1010" stroke-width="0.9"/>
<rect x="410.02" y="571.54" width="9.8" height="4.06" fill="#ffffff" stroke="#333333" stroke-width="0.9"/>
<rect x="424.31" y="554.8" width="9.8" height="20.8" fill="#c8c8c8" stroke="#333333" stroke-width="0.9"/>
<rect x="438.6" y="557.24" width="9.8" height="18.36" fill="#ffffff" stroke="#333333" stroke-width="0.9"/>
<rect x="452.89" y="513.2" width="9.8" height="62.4" fill="#c8c8c8" stroke="#333333" stroke-width="0.9"/>
<line x1="293.7" y1="510.6" x2="293.7" y2="575.6" stroke="#444" stroke-width="0.6" />
<line x1="293.7" y1="575.6" x2="465.18" y2="575.6" stroke="#444" stroke-width="0.6" />
<line x1="293.7" y1="575.6" x2="293.7" y2="576.9" stroke="#444" stroke-width="0.5" />
<line x1="307.99" y1="575.6" x2="307.99" y2="576.9" stroke="#444" stroke-width="0.5" />
<line x1="322.28" y1="575.6" x2="322.28" y2="576.9" stroke="#444" stroke-width="0.5" />
<line x1="336.57" y1="575.6" x2="336.57" y2="576.9" stroke="#444" stroke-width="0.5" />
<line x1="350.86" y1="575.6" x2="350.86" y2="576.9" stroke="#444" stroke-width="0.5" />
<line x1="365.15" y1="575.6" x2="365.15" y2="576.9" stroke="#444" stroke-width="0.5" />
<line x1="379.44" y1="575.6" x2="379.44" y2="576.9" stroke="#444" stroke-width="0.5" />
<line x1="393.73" y1="575.6" x2="393.73" y2="576.9" stroke="#444" stroke-width="0.5" />
<line x1="408.02" y1="575.6" x2="408.02" y2="576.9" stroke="#444" stroke-width="0.5" />
<line x1="422.31" y1="575.6" x2="422.31" y2="576.9" stroke="#444" stroke-width="0.5" />
<line x1="436.6" y1="575.6" x2="436.6" y2="576.9" stroke="#444" stroke-width="0.5" />
<line x1="450.89" y1="575.6" x2="450.89" y2="576.9" stroke="#444" stroke-width="0.5" />
<line x1="465.18" y1="575.6" x2="465.18" y2="576.9" stroke="#444" stroke-width="0.5" />
<line x1="292.4" y1="575.6" x2="293.7" y2="575.6" stroke="#444" stroke-width="0.5" />
<text x="289.4" y="577.6" font-size="5.8" text-anchor="end" font-weight="normal" fill="#333" stroke="#333" stroke-width="0.08" >0</text>
<line x1="292.4" y1="567.48" x2="293.7" y2="567.48" stroke="#444" stroke-width="0.5" />
<text x="289.4" y="569.48" font-size="5.8" text-anchor="end" font-weight="normal" fill="#333" stroke="#333" stroke-width="0.08" >50</text>
<line x1="292.4" y1="559.35" x2="293.7" y2="559.35" stroke="#444" stroke-width="0.5" />
<text x="289.4" y="561.35" font-size="5.8" text-anchor="end" font-weight="normal" fill="#333" stroke="#333" stroke-width="0.08" >100</text>
<line x1="292.4" y1="551.23" x2="293.7" y2="551.23" stroke="#444" stroke-width="0.5" />
<text x="289.4" y="553.23" font-size="5.8" text-anchor="end" font-weight="normal" fill="#333" stroke="#333" stroke-width="0.08" >150</text>
<line x1="292.4" y1="543.1" x2="293.7" y2="543.1" stroke="#444" stroke-width="0.5" />
<text x="289.4" y="545.1" font-size="5.8" text-anchor="end" font-weight="normal" fill="#333" stroke="#333" stroke-width="0.08" >200</text>
<line x1="292.4" y1="534.98" x2="293.7" y2="534.98" stroke="#444" stroke-width="0.5" />
<text x="289.4" y="536.98" font-size="5.8" text-anchor="end" font-weight="normal" fill="#333" stroke="#333" stroke-width="0.08" >250</text>
<line x1="292.4" y1="526.85" x2="293.7" y2="526.85" stroke="#444" stroke-width="0.5" />
<text x="289.4" y="528.85" font-size="5.8" text-anchor="end" font-weight="normal" fill="#333" stroke="#333" stroke-width="0.08" >300</text>
<line x1="292.4" y1="518.73" x2="293.7" y2="518.73" stroke="#444" stroke-width="0.5" />
<text x="289.4" y="520.73" font-size="5.8" text-anchor="end" font-weight="normal" fill="#333" stroke="#333" stroke-width="0.08" >350</text>
<line x1="292.4" y1="510.6" x2="293.7" y2="510.6" stroke="#444" stroke-width="0.5" />
<text x="289.4" y="512.6" font-size="5.8" text-anchor="end" font-weight="normal" fill="#333" stroke="#333" stroke-width="0.08" >400</text>
<text transform="translate(267.92,543.7) rotate(-90)" font-size="6.1" text-anchor="middle" font-weight="normal" fill="#444" stroke="#444" stroke-width="0.05">rel mRNA expression</text>
<text transform="translate(275.02,543.7) rotate(-90)" font-size="6.1" text-anchor="middle" font-weight="normal" fill="#555">(Illumina)</text>
<line x1="310.4" y1="516.9" x2="402.5" y2="516.9" stroke="#adadad" stroke-width="1.2" />
<path d="M402.5,516.9 V511.3 H409" fill="none" stroke="#000" stroke-width="1.1"/>
<polygon points="412,511.3 408.5,509.2 408.5,513.4" fill="#000"/>
<text x="414.6" y="516.6" font-size="8.3" text-anchor="start" font-weight="normal" fill="#111" stroke="#111" stroke-width="0.2" >SOX21</text>
<text x="34" y="587.4" font-size="9.8" text-anchor="start" font-weight="normal" fill="#111" stroke="#111" stroke-width="0.2" >4OHT:</text>
<text x="70" y="585.9" font-size="9" text-anchor="middle" font-weight="normal" fill="#111" stroke="#111" stroke-width="0.2" >-</text>
<text x="83.75" y="585.9" font-size="9" text-anchor="middle" font-weight="normal" fill="#111" stroke="#111" stroke-width="0.2" >+</text>
<line x1="63.75" y1="590.6" x2="90.05" y2="590.6" stroke="#111" stroke-width="1.2" />
<text x="76" y="601.3" font-size="8.6" text-anchor="middle" font-weight="normal" fill="#111" stroke="#111" stroke-width="0.2" >HSC</text>
<text x="98.75" y="585.9" font-size="9" text-anchor="middle" font-weight="normal" fill="#111" stroke="#111" stroke-width="0.2" >-</text>
<text x="112.5" y="585.9" font-size="9" text-anchor="middle" font-weight="normal" fill="#111" stroke="#111" stroke-width="0.2" >+</text>
<line x1="93.25" y1="590.6" x2="119.55" y2="590.6" stroke="#111" stroke-width="1.2" />
<text x="105.9" y="601.3" font-size="8.6" text-anchor="middle" font-weight="normal" fill="#111" stroke="#111" stroke-width="0.2" >CMP</text>
<text x="128.25" y="585.9" font-size="9" text-anchor="middle" font-weight="normal" fill="#111" stroke="#111" stroke-width="0.2" >-</text>
<text x="141.25" y="585.9" font-size="9" text-anchor="middle" font-weight="normal" fill="#111" stroke="#111" stroke-width="0.2" >+</text>
<line x1="122.5" y1="590.6" x2="148.8" y2="590.6" stroke="#111" stroke-width="1.2" />
<text x="136.25" y="601.3" font-size="8.6" text-anchor="middle" font-weight="normal" fill="#111" stroke="#111" stroke-width="0.2" >GMP</text>
<text x="157" y="585.9" font-size="9" text-anchor="middle" font-weight="normal" fill="#111" stroke="#111" stroke-width="0.2" >-</text>
<text x="170.75" y="585.9" font-size="9" text-anchor="middle" font-weight="normal" fill="#111" stroke="#111" stroke-width="0.2" >+</text>
<line x1="151.75" y1="590.6" x2="178.05" y2="590.6" stroke="#111" stroke-width="1.2" />
<text x="166.1" y="601.3" font-size="8.6" text-anchor="middle" font-weight="normal" fill="#111" stroke="#111" stroke-width="0.2" >MEP</text>
<text x="186.25" y="585.9" font-size="9" text-anchor="middle" font-weight="normal" fill="#111" stroke="#111" stroke-width="0.2" >-</text>
<text x="200" y="585.9" font-size="9" text-anchor="middle" font-weight="normal" fill="#111" stroke="#111" stroke-width="0.2" >+</text>
<line x1="181.25" y1="590.6" x2="207.55" y2="590.6" stroke="#111" stroke-width="1.2" />
<text transform="translate(192.44,607) rotate(-90)" font-size="7.6" text-anchor="middle" font-weight="normal" fill="#111" stroke="#111" stroke-width="0.2">luc</text>
<text transform="translate(201.49,607) rotate(-90)" font-size="7.6" text-anchor="middle" font-weight="normal" fill="#111" stroke="#111" stroke-width="0.2">RNAi</text>
<text x="215.5" y="585.9" font-size="9" text-anchor="middle" font-weight="normal" fill="#111" stroke="#111" stroke-width="0.2" >-</text>
<text x="229.25" y="585.9" font-size="9" text-anchor="middle" font-weight="normal" fill="#111" stroke="#111" stroke-width="0.2" >+</text>
<line x1="210.5" y1="590.6" x2="236.8" y2="590.6" stroke="#111" stroke-width="1.2" />
<text transform="translate(222.14,607) rotate(-90)" font-size="7.6" text-anchor="middle" font-weight="normal" fill="#111" stroke="#111" stroke-width="0.2">GATA1</text>
<text transform="translate(231.49,607) rotate(-90)" font-size="7.6" text-anchor="middle" font-weight="normal" fill="#111" stroke="#111" stroke-width="0.2">RNAi</text>
<text x="267" y="587.4" font-size="9.8" text-anchor="start" font-weight="normal" fill="#111" stroke="#111" stroke-width="0.2" >4OHT:</text>
<text x="302" y="585.9" font-size="9" text-anchor="middle" font-weight="normal" fill="#111" stroke="#111" stroke-width="0.2" >-</text>
<text x="315.5" y="585.9" font-size="9" text-anchor="middle" font-weight="normal" fill="#111" stroke="#111" stroke-width="0.2" >+</text>
<line x1="296.25" y1="590.6" x2="321.65" y2="590.6" stroke="#111" stroke-width="1.2" />
<text x="308.4" y="601.3" font-size="8.6" text-anchor="middle" font-weight="normal" fill="#111" stroke="#111" stroke-width="0.2" >HSC</text>
<text x="331.25" y="585.9" font-size="9" text-anchor="middle" font-weight="normal" fill="#111" stroke="#111" stroke-width="0.2" >-</text>
<text x="344.25" y="585.9" font-size="9" text-anchor="middle" font-weight="normal" fill="#111" stroke="#111" stroke-width="0.2" >+</text>
<line x1="325.5" y1="590.6" x2="350.9" y2="590.6" stroke="#111" stroke-width="1.2" />
<text x="337.5" y="601.3" font-size="8.6" text-anchor="middle" font-weight="normal" fill="#111" stroke="#111" stroke-width="0.2" >CMP</text>
<text x="359.5" y="585.9" font-size="9" text-anchor="middle" font-weight="normal" fill="#111" stroke="#111" stroke-width="0.2" >-</text>
<text x="372.5" y="585.9" font-size="9" text-anchor="middle" font-weight="normal" fill="#111" stroke="#111" stroke-width="0.2" >+</text>
<line x1="354.5" y1="590.6" x2="379.9" y2="590.6" stroke="#111" stroke-width="1.2" />
<text x="366.6" y="601.3" font-size="8.6" text-anchor="middle" font-weight="normal" fill="#111" stroke="#111" stroke-width="0.2" >GMP</text>
<text x="387.5" y="585.9" font-size="9" text-anchor="middle" font-weight="normal" fill="#111" stroke="#111" stroke-width="0.2" >-</text>
<text x="400.5" y="585.9" font-size="9" text-anchor="middle" font-weight="normal" fill="#111" stroke="#111" stroke-width="0.2" >+</text>
<line x1="383" y1="590.6" x2="408.4" y2="590.6" stroke="#111" stroke-width="1.2" />
<text x="396.25" y="601.3" font-size="8.6" text-anchor="middle" font-weight="normal" fill="#111" stroke="#111" stroke-width="0.2" >MEP</text>
<text x="416.25" y="585.9" font-size="9" text-anchor="middle" font-weight="normal" fill="#111" stroke="#111" stroke-width="0.2" >-</text>
<text x="429.25" y="585.9" font-size="9" text-anchor="middle" font-weight="normal" fill="#111" stroke="#111" stroke-width="0.2" >+</text>
<line x1="411.75" y1="590.6" x2="437.15" y2="590.6" stroke="#111" stroke-width="1.2" />
<text transform="translate(421.84,607) rotate(-90)" font-size="7.6" text-anchor="middle" font-weight="normal" fill="#111" stroke="#111" stroke-width="0.2">luc</text>
<text transform="translate(430.84,607) rotate(-90)" font-size="7.6" text-anchor="middle" font-weight="normal" fill="#111" stroke="#111" stroke-width="0.2">RNAi</text>
<text x="444.5" y="585.9" font-size="9" text-anchor="middle" font-weight="normal" fill="#111" stroke="#111" stroke-width="0.2" >-</text>
<text x="458" y="585.9" font-size="9" text-anchor="middle" font-weight="normal" fill="#111" stroke="#111" stroke-width="0.2" >+</text>
<line x1="440.75" y1="590.6" x2="466.15" y2="590.6" stroke="#111" stroke-width="1.2" />
<text transform="translate(450.84,607) rotate(-90)" font-size="7.6" text-anchor="middle" font-weight="normal" fill="#111" stroke="#111" stroke-width="0.2">GATA1</text>
<text transform="translate(460.24,607) rotate(-90)" font-size="7.6" text-anchor="middle" font-weight="normal" fill="#111" stroke="#111" stroke-width="0.2">RNAi</text>
</svg>
</body></html>
